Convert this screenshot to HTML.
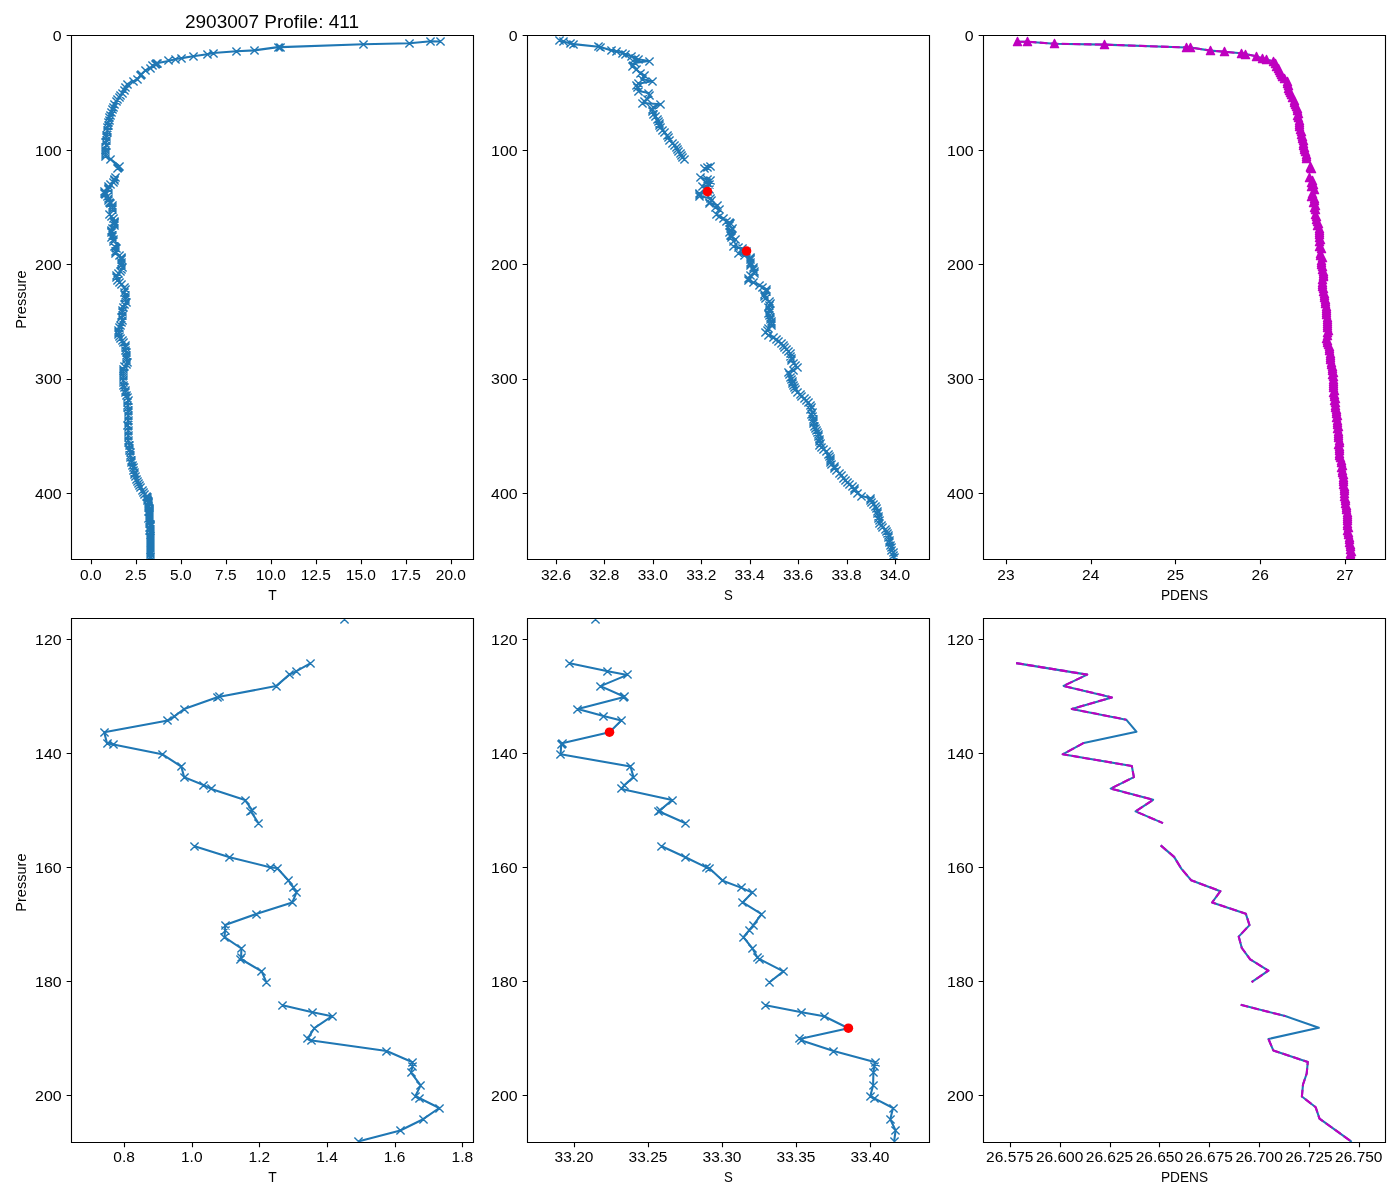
<!DOCTYPE html>
<html lang="en"><head><meta charset="utf-8"><title>2903007 Profile: 411</title>
<style>html,body{margin:0;padding:0;background:#fff}body{width:1400px;height:1200px;overflow:hidden;font-family:"Liberation Sans",sans-serif}svg{display:block}text{white-space:pre}</style></head>
<body>
<svg width="1400" height="1200" viewBox="0 0 1400 1200" font-family="'Liberation Sans', sans-serif" fill="#000">
<rect width="1400" height="1200" fill="#fff"/>
<defs>
<clipPath id="c0"><rect x="71.5" y="35.5" width="402" height="524"/></clipPath>
<clipPath id="c1"><rect x="527.5" y="35.5" width="402" height="524"/></clipPath>
<clipPath id="c2"><rect x="983.5" y="35.5" width="402" height="524"/></clipPath>
<clipPath id="c3"><rect x="71.5" y="618.5" width="402" height="524"/></clipPath>
<clipPath id="c4"><rect x="527.5" y="618.5" width="402" height="524"/></clipPath>
<clipPath id="c5"><rect x="983.5" y="618.5" width="402" height="524"/></clipPath>
</defs>
<g clip-path="url(#c0)"><path d="M440 41.5 L430.9 41.3 L409.5 43.2 L363.4 44.2 L280.9 47.1 L278 47.1 L254.3 50.4 L236.4 51.3 L213.1 53 L207.3 54.3 L193.1 56.2 L181.6 58.1 L175.8 59 L168.4 60.9 L157.9 63.1 L156.6 63.8 L155.3 64.4 L152.7 65.5 L150.6 68.1 L145.6 70.2 L141.6 74.1 L140.3 75.4 L137.7 79.2 L133.9 81.1 L127 84.1 L125.7 87.1 L124 90.6 L122.3 93.5 L120.71 95.43 L119.12 97.37 L117.9 99.3 L116.41 101.85 L114.7 104.4 L113.1 107 L112.1 109.6 L111.28 112.3 L110.4 115 L109.61 117.5 L109 120 L108.32 122.5 L108.26 125 L107.55 127.5 L107.5 130 L107.13 132.5 L106.55 135 L106.24 137.5 L106.2 140 L105.97 142.5 L106.08 145 L105.41 147.5 L105.5 150 L105.31 152 L105.59 154 L105.5 156 L110.5 159 L119.4 166 L118.4 167 L117.4 168M115.68 177.78 L114.92 179.38 L114.56 180.11 L113.86 182.36 L110.85 184.5 L110.73 184.6 L108.97 186.95 L108.47 188.38 L108.1 189.28 L104.71 191.61 L104.86 193.84 L105.2 194.1 L107.8 196.03 L108.82 198.5 L108.97 200.63 L109.99 202.22 L110.41 203 L112.21 205.25 L112.59 207.24 L112.51 207.44 L112.93 209.89M109.53 214.53 L111.39 216.72 L113.59 218.77 L113.92 218.89 L114.53 221.46 L114.81 222.89 L114.94 223.83 L114.73 225.8 L112.8 228.15 L111.15 230.36 L111.15 231.36 L111.12 232.77 L112.02 235.06 L112 236.86 L111.98 237.17 L113.1 239.66 L113.35 241.84M114.2 246.46 L115.8 247.87 L116.84 248.65 L115.9 251.06 L115.53 253.21 L115.77 253.53 L119.75 255.64 L121.12 257.89 L121.12 258.82 L121.04 259.98 L121.56 262.55 L121.27 264.7 L121.5 265.14 L122.55 267.09 L121.69 269.34 L120.47 271.61 L118.23 273.8 L116.07 275.8 L116.85 277.9 L117 280 L119.55 282.33 L121.93 284.67 L124.5 287 L125 289.67 L124.52 292.33 L125 295 L125.58 297.33 L125.52 299.67 L126 302 L124.58 304.67 L123.4 307.33 L122.5 310 L122.24 312.5 L122.47 315 L121.9 317.5 L122 320 L121.18 322.5 L120.35 325 L119.29 327.5 L118.5 330 L118.87 332 L118.86 334 L119.5 336 L120.57 338.25 L122.04 340.5 L123.75 342.75 L125 345 L125.32 347.5 L125.62 350 L126.18 352.5 L126.5 355 L126.63 357.33 L126.69 359.67 L127 362 L126.04 364.33 L124.81 366.67 L123.5 369 L123.22 371.2 L123.35 373.4 L123.22 375.6 L123.36 377.8 L123 380 L123.66 382.5 L123.85 385 L124.84 387.5 L125 390 L125.48 392.5 L126.44 395 L127.43 397.5 L128 400 L127.76 402.5 L127.99 405 L127.68 407.5 L128 410 L128.12 412.5 L128.19 415 L128.05 417.5 L128 420 L128.31 422.5 L127.97 425 L128.29 427.5 L128.2 430 L128.22 432.5 L128.16 435 L128.02 437.5 L128 440 L128.74 442.67 L129.31 445.33 L129.5 448 L129.78 450.4 L130.21 452.8 L130.09 455.2 L130.84 457.6 L131 460 L131.73 462.5 L132.6 465 L133.1 467.5 L133.5 470 L134.1 472.25 L134.92 474.5 L135.87 476.75 L136.5 479 L137.17 481 L138.47 483 L139.5 485 L140.82 487.5 L142.6 490 L143.47 492 L144.56 494 L146 496 L147.14 497.9 L147.9 499.8 L147.84 500.84 L148.12 501.88 L148.42 502.92 L148.96 503.96 L148.9 505 L148.65 506.07 L148.95 507.14 L149.06 508.21 L149.34 509.29 L149.34 510.36 L149.41 511.43 L149.2 512.5 L149.02 513.57 L149.08 514.64 L149.02 515.71 L149.35 516.79 L149.38 517.86 L148.78 518.93 L149 520 L149.05 521.12 L149.36 522.25 L149.64 523.38 L150.1 524.5 L150.09 525.62 L150.16 526.75 L149.93 527.88 L150.1 529 L149.83 530.2 L150.2 531.4 L150.25 532.6 L150.47 533.8 L150.5 535 L150.82 536.15 L150.63 537.31 L150.51 538.46 L150.58 539.62 L150.62 540.77 L150.19 541.92 L150.78 543.08 L150.7 544.23 L150.76 545.38 L150.71 546.54 L150.42 547.69 L150.43 548.85 L150.5 550 L150.22 551.2 L150.59 552.4 L150.19 553.6 L150.2 554.8 L150.3 556 L150.26 557.2 L150.39 558.4" fill="none" stroke="#1f77b4" stroke-width="2.08" stroke-linejoin="round"/><path d="M436.4 37.4l8.2 8.2m-8.2 0l8.2 -8.2M426.4 37.4l8.2 8.2m-8.2 0l8.2 -8.2M405.4 39.4l8.2 8.2m-8.2 0l8.2 -8.2M359.4 40.4l8.2 8.2m-8.2 0l8.2 -8.2M276.4 43.4l8.2 8.2m-8.2 0l8.2 -8.2M274.4 43.4l8.2 8.2m-8.2 0l8.2 -8.2M250.4 46.4l8.2 8.2m-8.2 0l8.2 -8.2M232.4 47.4l8.2 8.2m-8.2 0l8.2 -8.2M209.4 49.4l8.2 8.2m-8.2 0l8.2 -8.2M203.4 50.4l8.2 8.2m-8.2 0l8.2 -8.2M189.4 52.4l8.2 8.2m-8.2 0l8.2 -8.2M177.4 54.4l8.2 8.2m-8.2 0l8.2 -8.2M171.4 55.4l8.2 8.2m-8.2 0l8.2 -8.2M164.4 56.4l8.2 8.2m-8.2 0l8.2 -8.2M153.4 59.4l8.2 8.2m-8.2 0l8.2 -8.2M152.4 59.4l8.2 8.2m-8.2 0l8.2 -8.2M151.4 60.4l8.2 8.2m-8.2 0l8.2 -8.2M148.4 61.4l8.2 8.2m-8.2 0l8.2 -8.2M146.4 64.4l8.2 8.2m-8.2 0l8.2 -8.2M141.4 66.4l8.2 8.2m-8.2 0l8.2 -8.2M137.4 70.4l8.2 8.2m-8.2 0l8.2 -8.2M136.4 71.4l8.2 8.2m-8.2 0l8.2 -8.2M133.4 75.4l8.2 8.2m-8.2 0l8.2 -8.2M129.4 77.4l8.2 8.2m-8.2 0l8.2 -8.2M123.4 80.4l8.2 8.2m-8.2 0l8.2 -8.2M121.4 83.4l8.2 8.2m-8.2 0l8.2 -8.2M120.4 86.4l8.2 8.2m-8.2 0l8.2 -8.2M118.4 89.4l8.2 8.2m-8.2 0l8.2 -8.2M116.4 91.4l8.2 8.2m-8.2 0l8.2 -8.2M115.4 93.4l8.2 8.2m-8.2 0l8.2 -8.2M113.4 95.4l8.2 8.2m-8.2 0l8.2 -8.2M112.4 97.4l8.2 8.2m-8.2 0l8.2 -8.2M110.4 100.4l8.2 8.2m-8.2 0l8.2 -8.2M109.4 103.4l8.2 8.2m-8.2 0l8.2 -8.2M108.4 105.4l8.2 8.2m-8.2 0l8.2 -8.2M107.4 108.4l8.2 8.2m-8.2 0l8.2 -8.2M106.4 111.4l8.2 8.2m-8.2 0l8.2 -8.2M105.4 113.4l8.2 8.2m-8.2 0l8.2 -8.2M105.4 116.4l8.2 8.2m-8.2 0l8.2 -8.2M104.4 118.4l8.2 8.2m-8.2 0l8.2 -8.2M104.4 121.4l8.2 8.2m-8.2 0l8.2 -8.2M103.4 123.4l8.2 8.2m-8.2 0l8.2 -8.2M103.4 126.4l8.2 8.2m-8.2 0l8.2 -8.2M103.4 128.4l8.2 8.2m-8.2 0l8.2 -8.2M102.4 131.4l8.2 8.2m-8.2 0l8.2 -8.2M102.4 133.4l8.2 8.2m-8.2 0l8.2 -8.2M102.4 136.4l8.2 8.2m-8.2 0l8.2 -8.2M101.4 138.4l8.2 8.2m-8.2 0l8.2 -8.2M102.4 141.4l8.2 8.2m-8.2 0l8.2 -8.2M101.4 143.4l8.2 8.2m-8.2 0l8.2 -8.2M101.4 146.4l8.2 8.2m-8.2 0l8.2 -8.2M101.4 148.4l8.2 8.2m-8.2 0l8.2 -8.2M101.4 150.4l8.2 8.2m-8.2 0l8.2 -8.2M101.4 152.4l8.2 8.2m-8.2 0l8.2 -8.2M106.4 155.4l8.2 8.2m-8.2 0l8.2 -8.2M115.4 162.4l8.2 8.2m-8.2 0l8.2 -8.2M114.4 163.4l8.2 8.2m-8.2 0l8.2 -8.2M113.4 164.4l8.2 8.2m-8.2 0l8.2 -8.2M111.4 173.4l8.2 8.2m-8.2 0l8.2 -8.2M110.4 175.4l8.2 8.2m-8.2 0l8.2 -8.2M110.4 176.4l8.2 8.2m-8.2 0l8.2 -8.2M109.4 178.4l8.2 8.2m-8.2 0l8.2 -8.2M106.4 180.4l8.2 8.2m-8.2 0l8.2 -8.2M106.4 180.4l8.2 8.2m-8.2 0l8.2 -8.2M104.4 182.4l8.2 8.2m-8.2 0l8.2 -8.2M104.4 184.4l8.2 8.2m-8.2 0l8.2 -8.2M104.4 185.4l8.2 8.2m-8.2 0l8.2 -8.2M100.4 187.4l8.2 8.2m-8.2 0l8.2 -8.2M100.4 189.4l8.2 8.2m-8.2 0l8.2 -8.2M101.4 190.4l8.2 8.2m-8.2 0l8.2 -8.2M103.4 192.4l8.2 8.2m-8.2 0l8.2 -8.2M104.4 194.4l8.2 8.2m-8.2 0l8.2 -8.2M104.4 196.4l8.2 8.2m-8.2 0l8.2 -8.2M105.4 198.4l8.2 8.2m-8.2 0l8.2 -8.2M106.4 199.4l8.2 8.2m-8.2 0l8.2 -8.2M108.4 201.4l8.2 8.2m-8.2 0l8.2 -8.2M108.4 203.4l8.2 8.2m-8.2 0l8.2 -8.2M108.4 203.4l8.2 8.2m-8.2 0l8.2 -8.2M108.4 205.4l8.2 8.2m-8.2 0l8.2 -8.2M105.4 210.4l8.2 8.2m-8.2 0l8.2 -8.2M107.4 212.4l8.2 8.2m-8.2 0l8.2 -8.2M109.4 214.4l8.2 8.2m-8.2 0l8.2 -8.2M109.4 214.4l8.2 8.2m-8.2 0l8.2 -8.2M110.4 217.4l8.2 8.2m-8.2 0l8.2 -8.2M110.4 218.4l8.2 8.2m-8.2 0l8.2 -8.2M110.4 219.4l8.2 8.2m-8.2 0l8.2 -8.2M110.4 221.4l8.2 8.2m-8.2 0l8.2 -8.2M108.4 224.4l8.2 8.2m-8.2 0l8.2 -8.2M107.4 226.4l8.2 8.2m-8.2 0l8.2 -8.2M107.4 227.4l8.2 8.2m-8.2 0l8.2 -8.2M107.4 228.4l8.2 8.2m-8.2 0l8.2 -8.2M108.4 231.4l8.2 8.2m-8.2 0l8.2 -8.2M108.4 232.4l8.2 8.2m-8.2 0l8.2 -8.2M107.4 233.4l8.2 8.2m-8.2 0l8.2 -8.2M109.4 235.4l8.2 8.2m-8.2 0l8.2 -8.2M109.4 237.4l8.2 8.2m-8.2 0l8.2 -8.2M110.4 242.4l8.2 8.2m-8.2 0l8.2 -8.2M111.4 243.4l8.2 8.2m-8.2 0l8.2 -8.2M112.4 244.4l8.2 8.2m-8.2 0l8.2 -8.2M111.4 247.4l8.2 8.2m-8.2 0l8.2 -8.2M111.4 249.4l8.2 8.2m-8.2 0l8.2 -8.2M111.4 249.4l8.2 8.2m-8.2 0l8.2 -8.2M115.4 251.4l8.2 8.2m-8.2 0l8.2 -8.2M117.4 253.4l8.2 8.2m-8.2 0l8.2 -8.2M117.4 254.4l8.2 8.2m-8.2 0l8.2 -8.2M117.4 255.4l8.2 8.2m-8.2 0l8.2 -8.2M117.4 258.4l8.2 8.2m-8.2 0l8.2 -8.2M117.4 260.4l8.2 8.2m-8.2 0l8.2 -8.2M117.4 261.4l8.2 8.2m-8.2 0l8.2 -8.2M118.4 263.4l8.2 8.2m-8.2 0l8.2 -8.2M117.4 265.4l8.2 8.2m-8.2 0l8.2 -8.2M116.4 267.4l8.2 8.2m-8.2 0l8.2 -8.2M114.4 269.4l8.2 8.2m-8.2 0l8.2 -8.2M112.4 271.4l8.2 8.2m-8.2 0l8.2 -8.2M112.4 273.4l8.2 8.2m-8.2 0l8.2 -8.2M113.4 276.4l8.2 8.2m-8.2 0l8.2 -8.2M115.4 278.4l8.2 8.2m-8.2 0l8.2 -8.2M117.4 280.4l8.2 8.2m-8.2 0l8.2 -8.2M120.4 283.4l8.2 8.2m-8.2 0l8.2 -8.2M121.4 285.4l8.2 8.2m-8.2 0l8.2 -8.2M120.4 288.4l8.2 8.2m-8.2 0l8.2 -8.2M121.4 291.4l8.2 8.2m-8.2 0l8.2 -8.2M121.4 293.4l8.2 8.2m-8.2 0l8.2 -8.2M121.4 295.4l8.2 8.2m-8.2 0l8.2 -8.2M122.4 298.4l8.2 8.2m-8.2 0l8.2 -8.2M120.4 300.4l8.2 8.2m-8.2 0l8.2 -8.2M119.4 303.4l8.2 8.2m-8.2 0l8.2 -8.2M118.4 306.4l8.2 8.2m-8.2 0l8.2 -8.2M118.4 308.4l8.2 8.2m-8.2 0l8.2 -8.2M118.4 311.4l8.2 8.2m-8.2 0l8.2 -8.2M117.4 313.4l8.2 8.2m-8.2 0l8.2 -8.2M118.4 316.4l8.2 8.2m-8.2 0l8.2 -8.2M117.4 318.4l8.2 8.2m-8.2 0l8.2 -8.2M116.4 321.4l8.2 8.2m-8.2 0l8.2 -8.2M115.4 323.4l8.2 8.2m-8.2 0l8.2 -8.2M114.4 326.4l8.2 8.2m-8.2 0l8.2 -8.2M114.4 328.4l8.2 8.2m-8.2 0l8.2 -8.2M114.4 330.4l8.2 8.2m-8.2 0l8.2 -8.2M115.4 332.4l8.2 8.2m-8.2 0l8.2 -8.2M116.4 334.4l8.2 8.2m-8.2 0l8.2 -8.2M118.4 336.4l8.2 8.2m-8.2 0l8.2 -8.2M119.4 338.4l8.2 8.2m-8.2 0l8.2 -8.2M121.4 341.4l8.2 8.2m-8.2 0l8.2 -8.2M121.4 343.4l8.2 8.2m-8.2 0l8.2 -8.2M121.4 346.4l8.2 8.2m-8.2 0l8.2 -8.2M122.4 348.4l8.2 8.2m-8.2 0l8.2 -8.2M122.4 351.4l8.2 8.2m-8.2 0l8.2 -8.2M122.4 353.4l8.2 8.2m-8.2 0l8.2 -8.2M122.4 355.4l8.2 8.2m-8.2 0l8.2 -8.2M123.4 358.4l8.2 8.2m-8.2 0l8.2 -8.2M122.4 360.4l8.2 8.2m-8.2 0l8.2 -8.2M120.4 362.4l8.2 8.2m-8.2 0l8.2 -8.2M119.4 365.4l8.2 8.2m-8.2 0l8.2 -8.2M119.4 367.4l8.2 8.2m-8.2 0l8.2 -8.2M119.4 369.4l8.2 8.2m-8.2 0l8.2 -8.2M119.4 371.4l8.2 8.2m-8.2 0l8.2 -8.2M119.4 373.4l8.2 8.2m-8.2 0l8.2 -8.2M119.4 376.4l8.2 8.2m-8.2 0l8.2 -8.2M119.4 378.4l8.2 8.2m-8.2 0l8.2 -8.2M119.4 381.4l8.2 8.2m-8.2 0l8.2 -8.2M120.4 383.4l8.2 8.2m-8.2 0l8.2 -8.2M121.4 386.4l8.2 8.2m-8.2 0l8.2 -8.2M121.4 388.4l8.2 8.2m-8.2 0l8.2 -8.2M122.4 391.4l8.2 8.2m-8.2 0l8.2 -8.2M123.4 393.4l8.2 8.2m-8.2 0l8.2 -8.2M124.4 396.4l8.2 8.2m-8.2 0l8.2 -8.2M123.4 398.4l8.2 8.2m-8.2 0l8.2 -8.2M123.4 401.4l8.2 8.2m-8.2 0l8.2 -8.2M123.4 403.4l8.2 8.2m-8.2 0l8.2 -8.2M124.4 406.4l8.2 8.2m-8.2 0l8.2 -8.2M124.4 408.4l8.2 8.2m-8.2 0l8.2 -8.2M124.4 411.4l8.2 8.2m-8.2 0l8.2 -8.2M124.4 413.4l8.2 8.2m-8.2 0l8.2 -8.2M124.4 416.4l8.2 8.2m-8.2 0l8.2 -8.2M124.4 418.4l8.2 8.2m-8.2 0l8.2 -8.2M123.4 421.4l8.2 8.2m-8.2 0l8.2 -8.2M124.4 423.4l8.2 8.2m-8.2 0l8.2 -8.2M124.4 426.4l8.2 8.2m-8.2 0l8.2 -8.2M124.4 428.4l8.2 8.2m-8.2 0l8.2 -8.2M124.4 431.4l8.2 8.2m-8.2 0l8.2 -8.2M124.4 433.4l8.2 8.2m-8.2 0l8.2 -8.2M124.4 436.4l8.2 8.2m-8.2 0l8.2 -8.2M124.4 438.4l8.2 8.2m-8.2 0l8.2 -8.2M125.4 441.4l8.2 8.2m-8.2 0l8.2 -8.2M125.4 444.4l8.2 8.2m-8.2 0l8.2 -8.2M125.4 446.4l8.2 8.2m-8.2 0l8.2 -8.2M126.4 448.4l8.2 8.2m-8.2 0l8.2 -8.2M126.4 451.4l8.2 8.2m-8.2 0l8.2 -8.2M126.4 453.4l8.2 8.2m-8.2 0l8.2 -8.2M127.4 456.4l8.2 8.2m-8.2 0l8.2 -8.2M127.4 458.4l8.2 8.2m-8.2 0l8.2 -8.2M128.4 461.4l8.2 8.2m-8.2 0l8.2 -8.2M129.4 463.4l8.2 8.2m-8.2 0l8.2 -8.2M129.4 466.4l8.2 8.2m-8.2 0l8.2 -8.2M130.4 468.4l8.2 8.2m-8.2 0l8.2 -8.2M130.4 470.4l8.2 8.2m-8.2 0l8.2 -8.2M131.4 472.4l8.2 8.2m-8.2 0l8.2 -8.2M132.4 475.4l8.2 8.2m-8.2 0l8.2 -8.2M133.4 477.4l8.2 8.2m-8.2 0l8.2 -8.2M134.4 479.4l8.2 8.2m-8.2 0l8.2 -8.2M135.4 481.4l8.2 8.2m-8.2 0l8.2 -8.2M136.4 483.4l8.2 8.2m-8.2 0l8.2 -8.2M138.4 486.4l8.2 8.2m-8.2 0l8.2 -8.2M139.4 488.4l8.2 8.2m-8.2 0l8.2 -8.2M140.4 490.4l8.2 8.2m-8.2 0l8.2 -8.2M142.4 492.4l8.2 8.2m-8.2 0l8.2 -8.2M143.4 493.4l8.2 8.2m-8.2 0l8.2 -8.2M143.4 495.4l8.2 8.2m-8.2 0l8.2 -8.2M143.4 496.4l8.2 8.2m-8.2 0l8.2 -8.2M144.4 497.4l8.2 8.2m-8.2 0l8.2 -8.2M144.4 498.4l8.2 8.2m-8.2 0l8.2 -8.2M144.4 499.4l8.2 8.2m-8.2 0l8.2 -8.2M144.4 501.4l8.2 8.2m-8.2 0l8.2 -8.2M144.4 502.4l8.2 8.2m-8.2 0l8.2 -8.2M144.4 503.4l8.2 8.2m-8.2 0l8.2 -8.2M145.4 504.4l8.2 8.2m-8.2 0l8.2 -8.2M145.4 505.4l8.2 8.2m-8.2 0l8.2 -8.2M145.4 506.4l8.2 8.2m-8.2 0l8.2 -8.2M145.4 507.4l8.2 8.2m-8.2 0l8.2 -8.2M145.4 508.4l8.2 8.2m-8.2 0l8.2 -8.2M145.4 509.4l8.2 8.2m-8.2 0l8.2 -8.2M145.4 510.4l8.2 8.2m-8.2 0l8.2 -8.2M145.4 511.4l8.2 8.2m-8.2 0l8.2 -8.2M145.4 512.4l8.2 8.2m-8.2 0l8.2 -8.2M145.4 513.4l8.2 8.2m-8.2 0l8.2 -8.2M144.4 514.4l8.2 8.2m-8.2 0l8.2 -8.2M145.4 516.4l8.2 8.2m-8.2 0l8.2 -8.2M145.4 517.4l8.2 8.2m-8.2 0l8.2 -8.2M145.4 518.4l8.2 8.2m-8.2 0l8.2 -8.2M145.4 519.4l8.2 8.2m-8.2 0l8.2 -8.2M146.4 520.4l8.2 8.2m-8.2 0l8.2 -8.2M146.4 521.4l8.2 8.2m-8.2 0l8.2 -8.2M146.4 522.4l8.2 8.2m-8.2 0l8.2 -8.2M145.4 523.4l8.2 8.2m-8.2 0l8.2 -8.2M146.4 525.4l8.2 8.2m-8.2 0l8.2 -8.2M145.4 526.4l8.2 8.2m-8.2 0l8.2 -8.2M146.4 527.4l8.2 8.2m-8.2 0l8.2 -8.2M146.4 528.4l8.2 8.2m-8.2 0l8.2 -8.2M146.4 529.4l8.2 8.2m-8.2 0l8.2 -8.2M146.4 531.4l8.2 8.2m-8.2 0l8.2 -8.2M146.4 532.4l8.2 8.2m-8.2 0l8.2 -8.2M146.4 533.4l8.2 8.2m-8.2 0l8.2 -8.2M146.4 534.4l8.2 8.2m-8.2 0l8.2 -8.2M146.4 535.4l8.2 8.2m-8.2 0l8.2 -8.2M146.4 536.4l8.2 8.2m-8.2 0l8.2 -8.2M146.4 537.4l8.2 8.2m-8.2 0l8.2 -8.2M146.4 539.4l8.2 8.2m-8.2 0l8.2 -8.2M146.4 540.4l8.2 8.2m-8.2 0l8.2 -8.2M146.4 541.4l8.2 8.2m-8.2 0l8.2 -8.2M146.4 542.4l8.2 8.2m-8.2 0l8.2 -8.2M146.4 543.4l8.2 8.2m-8.2 0l8.2 -8.2M146.4 544.4l8.2 8.2m-8.2 0l8.2 -8.2M146.4 546.4l8.2 8.2m-8.2 0l8.2 -8.2M146.4 547.4l8.2 8.2m-8.2 0l8.2 -8.2M146.4 548.4l8.2 8.2m-8.2 0l8.2 -8.2M146.4 549.4l8.2 8.2m-8.2 0l8.2 -8.2M146.4 550.4l8.2 8.2m-8.2 0l8.2 -8.2M146.4 552.4l8.2 8.2m-8.2 0l8.2 -8.2M146.4 553.4l8.2 8.2m-8.2 0l8.2 -8.2M146.4 554.4l8.2 8.2m-8.2 0l8.2 -8.2" fill="none" stroke="#1f77b4" stroke-width="1.4"/></g>
<g clip-path="url(#c1)"><path d="M559.9 40.9 L563.1 41.6 L570.9 43.5 L573.7 44.1 L598.5 46.7 L600.4 47 L611.6 50.4 L616 51.4 L622.3 53 L625 54 L631.5 56.4 L635.1 58.3 L638 59.3 L649 61 L634.7 62.9 L633.21 65.2 L632.5 66.3 L636.7 69.7 L640 73 L644 75.7 L642 79 L652 81.3 L638 83.7 L636.95 85.7 L637.3 87.7 L638.7 91 L648.7 93 L649.3 95.7 L647.3 99 L644.2 101 L642.7 103 L660.7 104.3 L653.3 107 L652.73 109.35 L652.7 111.7 L653.05 114 L655.3 116.3 L657.4 119 L658 121.7 L659.19 123.7 L659.23 125.7 L660.9 127.7 L662.54 130.27 L664.86 132.83 L667.3 135.4 L668.73 137.97 L669.95 140.53 L672.4 143.1 L674.83 145.27 L676.85 147.43 L677.6 149.6 L678.8 151.53 L680.1 153.47 L681.4 155.4 L682.17 157.45 L684.6 159.5M710.5 166.6 L707.5 167.4 L704.5 168.3M700.96 177.78 L707.21 179.38 L710.4 180.11 L706.01 182.36 L709.92 184.5 L709.73 184.6 L702.3 186.95 L706.5 188.38 L709.42 189.28 L707.49 191.61 L699.72 193.84 L699.58 194.1 L699.49 196.03 L710.92 198.5 L711.41 200.63 L709.94 202.22 L709.45 203 L717.73 205.25 L715.8 207.24 L715.44 207.44 L719.93 209.89M716.02 214.53 L719.92 216.72 L723.32 218.77 L723.78 218.89 L726.02 221.46 L729.09 222.89 L730.84 223.83 L729.27 225.8 L732.37 228.15 L731.01 230.36 L730.35 231.36 L729.39 232.77 L730.88 235.06 L731.68 236.86 L731.97 237.17 L735.93 239.66 L733.66 241.84M733.02 246.46 L738.91 247.87 L742.59 248.65 L746.56 251.06 L738.58 253.21 L738.91 253.53 L744.14 255.64 L750.98 257.89 L750.79 258.82 L750.65 259.98 L750.61 262.55 L750.15 264.7 L750.82 265.14 L753.86 267.09 L753.42 269.34 L754.29 271.61 L754.04 273.8 L750.6 275.8 L748.5 278 L748 280.2 L753.54 282.8 L759.7 285.4 L762.73 287.45 L766.7 289.5 L766.56 291.83 L764.42 294.17 L764.3 296.5 L765.31 298.83 L769.14 301.17 L770.2 303.5 L769.96 305.55 L768.89 307.6 L769.39 309.65 L769 311.7 L768.35 313.73 L769.66 315.75 L770.86 317.77 L770.2 319.8 L771.29 321.77 L771.33 323.73 L771.3 325.7 L768.89 328.03 L767.17 330.37 L765.5 332.7 L768.33 335.03 L773.04 337.37 L776 339.7 L778.4 341.63 L781.22 343.57 L783 345.5 L784.59 347.43 L786.31 349.37 L788.8 351.3 L790.02 353.65 L790.97 356 L791.31 358.35 L791.2 360.7 L793.75 363.03 L795.7 365.37 L797 367.7 L793.38 370.05 L788.8 372.4 L789.13 374.72 L790.59 377.05 L791.14 379.38 L792.3 381.7 L792.23 383.75 L793.11 385.8 L794.48 387.85 L795.8 389.9 L797.29 392.23 L800.12 394.57 L801.7 396.9 L804.88 398.87 L806.13 400.83 L808.5 402.8 L810.14 405.13 L811.01 407.47 L810.8 409.8 L812.31 412.15 L811.73 414.5 L812.04 416.85 L813.2 419.2 L813.23 421.52 L813.74 423.85 L814.33 426.18 L815.5 428.5 L816.45 430.6 L817.7 432.7 L818.28 434.8 L818.26 436.9 L819 439 L819.88 441.05 L820.75 443.1 L819.89 445.15 L821.3 447.2 L823.95 449.53 L826.79 451.87 L828.3 454.2 L829.46 456.23 L830 458.25 L830.06 460.27 L830.7 462.3 L831.51 464.35 L834.18 466.4 L834.72 468.45 L836.5 470.5 L839.37 473.1 L841.98 475.7 L843.3 478.3 L845.26 480.47 L847.44 482.63 L849.8 484.8 L852.57 486.85 L854 488.9 L854.77 490.95 L857.3 493 L861.8 496 L870 498.3 L870.52 500.3 L871.84 502.3 L873.8 504.3 L875.84 506.53 L876.63 508.77 L877.5 511 L877.44 513.5 L878.63 516 L878.6 518.5 L879.38 520.75 L879 523 L881.19 525 L882.82 527 L885 529 L886.33 531 L887.09 533 L888.8 535 L888.45 537.5 L889.83 540 L889.5 542.5 L890.45 545 L891.07 547.5 L891.8 550 L893.32 552.5 L893.72 555 L894.8 557.5" fill="none" stroke="#1f77b4" stroke-width="2.08" stroke-linejoin="round"/><path d="M555.4 36.4l8.2 8.2m-8.2 0l8.2 -8.2M559.4 37.4l8.2 8.2m-8.2 0l8.2 -8.2M566.4 39.4l8.2 8.2m-8.2 0l8.2 -8.2M569.4 40.4l8.2 8.2m-8.2 0l8.2 -8.2M594.4 42.4l8.2 8.2m-8.2 0l8.2 -8.2M596.4 43.4l8.2 8.2m-8.2 0l8.2 -8.2M607.4 46.4l8.2 8.2m-8.2 0l8.2 -8.2M612.4 47.4l8.2 8.2m-8.2 0l8.2 -8.2M618.4 49.4l8.2 8.2m-8.2 0l8.2 -8.2M621.4 50.4l8.2 8.2m-8.2 0l8.2 -8.2M627.4 52.4l8.2 8.2m-8.2 0l8.2 -8.2M631.4 54.4l8.2 8.2m-8.2 0l8.2 -8.2M634.4 55.4l8.2 8.2m-8.2 0l8.2 -8.2M645.4 57.4l8.2 8.2m-8.2 0l8.2 -8.2M630.4 58.4l8.2 8.2m-8.2 0l8.2 -8.2M629.4 61.4l8.2 8.2m-8.2 0l8.2 -8.2M628.4 62.4l8.2 8.2m-8.2 0l8.2 -8.2M632.4 65.4l8.2 8.2m-8.2 0l8.2 -8.2M636.4 69.4l8.2 8.2m-8.2 0l8.2 -8.2M640.4 71.4l8.2 8.2m-8.2 0l8.2 -8.2M638.4 75.4l8.2 8.2m-8.2 0l8.2 -8.2M648.4 77.4l8.2 8.2m-8.2 0l8.2 -8.2M634.4 79.4l8.2 8.2m-8.2 0l8.2 -8.2M632.4 81.4l8.2 8.2m-8.2 0l8.2 -8.2M633.4 83.4l8.2 8.2m-8.2 0l8.2 -8.2M634.4 87.4l8.2 8.2m-8.2 0l8.2 -8.2M644.4 89.4l8.2 8.2m-8.2 0l8.2 -8.2M645.4 91.4l8.2 8.2m-8.2 0l8.2 -8.2M643.4 95.4l8.2 8.2m-8.2 0l8.2 -8.2M640.4 97.4l8.2 8.2m-8.2 0l8.2 -8.2M638.4 99.4l8.2 8.2m-8.2 0l8.2 -8.2M656.4 100.4l8.2 8.2m-8.2 0l8.2 -8.2M649.4 103.4l8.2 8.2m-8.2 0l8.2 -8.2M648.4 105.4l8.2 8.2m-8.2 0l8.2 -8.2M648.4 107.4l8.2 8.2m-8.2 0l8.2 -8.2M649.4 110.4l8.2 8.2m-8.2 0l8.2 -8.2M651.4 112.4l8.2 8.2m-8.2 0l8.2 -8.2M653.4 115.4l8.2 8.2m-8.2 0l8.2 -8.2M654.4 117.4l8.2 8.2m-8.2 0l8.2 -8.2M655.4 119.4l8.2 8.2m-8.2 0l8.2 -8.2M655.4 121.4l8.2 8.2m-8.2 0l8.2 -8.2M656.4 123.4l8.2 8.2m-8.2 0l8.2 -8.2M658.4 126.4l8.2 8.2m-8.2 0l8.2 -8.2M660.4 128.4l8.2 8.2m-8.2 0l8.2 -8.2M663.4 131.4l8.2 8.2m-8.2 0l8.2 -8.2M664.4 133.4l8.2 8.2m-8.2 0l8.2 -8.2M665.4 136.4l8.2 8.2m-8.2 0l8.2 -8.2M668.4 139.4l8.2 8.2m-8.2 0l8.2 -8.2M670.4 141.4l8.2 8.2m-8.2 0l8.2 -8.2M672.4 143.4l8.2 8.2m-8.2 0l8.2 -8.2M673.4 145.4l8.2 8.2m-8.2 0l8.2 -8.2M674.4 147.4l8.2 8.2m-8.2 0l8.2 -8.2M676.4 149.4l8.2 8.2m-8.2 0l8.2 -8.2M677.4 151.4l8.2 8.2m-8.2 0l8.2 -8.2M678.4 153.4l8.2 8.2m-8.2 0l8.2 -8.2M680.4 155.4l8.2 8.2m-8.2 0l8.2 -8.2M706.4 162.4l8.2 8.2m-8.2 0l8.2 -8.2M703.4 163.4l8.2 8.2m-8.2 0l8.2 -8.2M700.4 164.4l8.2 8.2m-8.2 0l8.2 -8.2M696.4 173.4l8.2 8.2m-8.2 0l8.2 -8.2M703.4 175.4l8.2 8.2m-8.2 0l8.2 -8.2M706.4 176.4l8.2 8.2m-8.2 0l8.2 -8.2M702.4 178.4l8.2 8.2m-8.2 0l8.2 -8.2M705.4 180.4l8.2 8.2m-8.2 0l8.2 -8.2M705.4 180.4l8.2 8.2m-8.2 0l8.2 -8.2M698.4 182.4l8.2 8.2m-8.2 0l8.2 -8.2M702.4 184.4l8.2 8.2m-8.2 0l8.2 -8.2M705.4 185.4l8.2 8.2m-8.2 0l8.2 -8.2M703.4 187.4l8.2 8.2m-8.2 0l8.2 -8.2M695.4 189.4l8.2 8.2m-8.2 0l8.2 -8.2M695.4 190.4l8.2 8.2m-8.2 0l8.2 -8.2M695.4 192.4l8.2 8.2m-8.2 0l8.2 -8.2M706.4 194.4l8.2 8.2m-8.2 0l8.2 -8.2M707.4 196.4l8.2 8.2m-8.2 0l8.2 -8.2M705.4 198.4l8.2 8.2m-8.2 0l8.2 -8.2M705.4 199.4l8.2 8.2m-8.2 0l8.2 -8.2M713.4 201.4l8.2 8.2m-8.2 0l8.2 -8.2M711.4 203.4l8.2 8.2m-8.2 0l8.2 -8.2M711.4 203.4l8.2 8.2m-8.2 0l8.2 -8.2M715.4 205.4l8.2 8.2m-8.2 0l8.2 -8.2M712.4 210.4l8.2 8.2m-8.2 0l8.2 -8.2M715.4 212.4l8.2 8.2m-8.2 0l8.2 -8.2M719.4 214.4l8.2 8.2m-8.2 0l8.2 -8.2M719.4 214.4l8.2 8.2m-8.2 0l8.2 -8.2M722.4 217.4l8.2 8.2m-8.2 0l8.2 -8.2M725.4 218.4l8.2 8.2m-8.2 0l8.2 -8.2M726.4 219.4l8.2 8.2m-8.2 0l8.2 -8.2M725.4 221.4l8.2 8.2m-8.2 0l8.2 -8.2M728.4 224.4l8.2 8.2m-8.2 0l8.2 -8.2M727.4 226.4l8.2 8.2m-8.2 0l8.2 -8.2M726.4 227.4l8.2 8.2m-8.2 0l8.2 -8.2M725.4 228.4l8.2 8.2m-8.2 0l8.2 -8.2M726.4 231.4l8.2 8.2m-8.2 0l8.2 -8.2M727.4 232.4l8.2 8.2m-8.2 0l8.2 -8.2M727.4 233.4l8.2 8.2m-8.2 0l8.2 -8.2M731.4 235.4l8.2 8.2m-8.2 0l8.2 -8.2M729.4 237.4l8.2 8.2m-8.2 0l8.2 -8.2M729.4 242.4l8.2 8.2m-8.2 0l8.2 -8.2M734.4 243.4l8.2 8.2m-8.2 0l8.2 -8.2M738.4 244.4l8.2 8.2m-8.2 0l8.2 -8.2M742.4 247.4l8.2 8.2m-8.2 0l8.2 -8.2M734.4 249.4l8.2 8.2m-8.2 0l8.2 -8.2M734.4 249.4l8.2 8.2m-8.2 0l8.2 -8.2M740.4 251.4l8.2 8.2m-8.2 0l8.2 -8.2M746.4 253.4l8.2 8.2m-8.2 0l8.2 -8.2M746.4 254.4l8.2 8.2m-8.2 0l8.2 -8.2M746.4 255.4l8.2 8.2m-8.2 0l8.2 -8.2M746.4 258.4l8.2 8.2m-8.2 0l8.2 -8.2M746.4 260.4l8.2 8.2m-8.2 0l8.2 -8.2M746.4 261.4l8.2 8.2m-8.2 0l8.2 -8.2M749.4 263.4l8.2 8.2m-8.2 0l8.2 -8.2M749.4 265.4l8.2 8.2m-8.2 0l8.2 -8.2M750.4 267.4l8.2 8.2m-8.2 0l8.2 -8.2M750.4 269.4l8.2 8.2m-8.2 0l8.2 -8.2M746.4 271.4l8.2 8.2m-8.2 0l8.2 -8.2M744.4 274.4l8.2 8.2m-8.2 0l8.2 -8.2M744.4 276.4l8.2 8.2m-8.2 0l8.2 -8.2M749.4 278.4l8.2 8.2m-8.2 0l8.2 -8.2M755.4 281.4l8.2 8.2m-8.2 0l8.2 -8.2M758.4 283.4l8.2 8.2m-8.2 0l8.2 -8.2M762.4 285.4l8.2 8.2m-8.2 0l8.2 -8.2M762.4 287.4l8.2 8.2m-8.2 0l8.2 -8.2M760.4 290.4l8.2 8.2m-8.2 0l8.2 -8.2M760.4 292.4l8.2 8.2m-8.2 0l8.2 -8.2M761.4 294.4l8.2 8.2m-8.2 0l8.2 -8.2M765.4 297.4l8.2 8.2m-8.2 0l8.2 -8.2M766.4 299.4l8.2 8.2m-8.2 0l8.2 -8.2M765.4 301.4l8.2 8.2m-8.2 0l8.2 -8.2M764.4 303.4l8.2 8.2m-8.2 0l8.2 -8.2M765.4 305.4l8.2 8.2m-8.2 0l8.2 -8.2M765.4 307.4l8.2 8.2m-8.2 0l8.2 -8.2M764.4 309.4l8.2 8.2m-8.2 0l8.2 -8.2M765.4 311.4l8.2 8.2m-8.2 0l8.2 -8.2M766.4 313.4l8.2 8.2m-8.2 0l8.2 -8.2M766.4 315.4l8.2 8.2m-8.2 0l8.2 -8.2M767.4 317.4l8.2 8.2m-8.2 0l8.2 -8.2M767.4 319.4l8.2 8.2m-8.2 0l8.2 -8.2M767.4 321.4l8.2 8.2m-8.2 0l8.2 -8.2M764.4 324.4l8.2 8.2m-8.2 0l8.2 -8.2M763.4 326.4l8.2 8.2m-8.2 0l8.2 -8.2M761.4 328.4l8.2 8.2m-8.2 0l8.2 -8.2M764.4 331.4l8.2 8.2m-8.2 0l8.2 -8.2M769.4 333.4l8.2 8.2m-8.2 0l8.2 -8.2M772.4 335.4l8.2 8.2m-8.2 0l8.2 -8.2M774.4 337.4l8.2 8.2m-8.2 0l8.2 -8.2M777.4 339.4l8.2 8.2m-8.2 0l8.2 -8.2M779.4 341.4l8.2 8.2m-8.2 0l8.2 -8.2M780.4 343.4l8.2 8.2m-8.2 0l8.2 -8.2M782.4 345.4l8.2 8.2m-8.2 0l8.2 -8.2M784.4 347.4l8.2 8.2m-8.2 0l8.2 -8.2M786.4 349.4l8.2 8.2m-8.2 0l8.2 -8.2M786.4 352.4l8.2 8.2m-8.2 0l8.2 -8.2M787.4 354.4l8.2 8.2m-8.2 0l8.2 -8.2M787.4 356.4l8.2 8.2m-8.2 0l8.2 -8.2M789.4 359.4l8.2 8.2m-8.2 0l8.2 -8.2M791.4 361.4l8.2 8.2m-8.2 0l8.2 -8.2M793.4 363.4l8.2 8.2m-8.2 0l8.2 -8.2M789.4 366.4l8.2 8.2m-8.2 0l8.2 -8.2M784.4 368.4l8.2 8.2m-8.2 0l8.2 -8.2M785.4 370.4l8.2 8.2m-8.2 0l8.2 -8.2M786.4 373.4l8.2 8.2m-8.2 0l8.2 -8.2M787.4 375.4l8.2 8.2m-8.2 0l8.2 -8.2M788.4 377.4l8.2 8.2m-8.2 0l8.2 -8.2M788.4 379.4l8.2 8.2m-8.2 0l8.2 -8.2M789.4 381.4l8.2 8.2m-8.2 0l8.2 -8.2M790.4 383.4l8.2 8.2m-8.2 0l8.2 -8.2M791.4 385.4l8.2 8.2m-8.2 0l8.2 -8.2M793.4 388.4l8.2 8.2m-8.2 0l8.2 -8.2M796.4 390.4l8.2 8.2m-8.2 0l8.2 -8.2M797.4 392.4l8.2 8.2m-8.2 0l8.2 -8.2M800.4 394.4l8.2 8.2m-8.2 0l8.2 -8.2M802.4 396.4l8.2 8.2m-8.2 0l8.2 -8.2M804.4 398.4l8.2 8.2m-8.2 0l8.2 -8.2M806.4 401.4l8.2 8.2m-8.2 0l8.2 -8.2M807.4 403.4l8.2 8.2m-8.2 0l8.2 -8.2M806.4 405.4l8.2 8.2m-8.2 0l8.2 -8.2M808.4 408.4l8.2 8.2m-8.2 0l8.2 -8.2M807.4 410.4l8.2 8.2m-8.2 0l8.2 -8.2M808.4 412.4l8.2 8.2m-8.2 0l8.2 -8.2M809.4 415.4l8.2 8.2m-8.2 0l8.2 -8.2M809.4 417.4l8.2 8.2m-8.2 0l8.2 -8.2M809.4 419.4l8.2 8.2m-8.2 0l8.2 -8.2M810.4 422.4l8.2 8.2m-8.2 0l8.2 -8.2M811.4 424.4l8.2 8.2m-8.2 0l8.2 -8.2M812.4 426.4l8.2 8.2m-8.2 0l8.2 -8.2M813.4 428.4l8.2 8.2m-8.2 0l8.2 -8.2M814.4 430.4l8.2 8.2m-8.2 0l8.2 -8.2M814.4 432.4l8.2 8.2m-8.2 0l8.2 -8.2M815.4 435.4l8.2 8.2m-8.2 0l8.2 -8.2M815.4 437.4l8.2 8.2m-8.2 0l8.2 -8.2M816.4 439.4l8.2 8.2m-8.2 0l8.2 -8.2M815.4 441.4l8.2 8.2m-8.2 0l8.2 -8.2M817.4 443.4l8.2 8.2m-8.2 0l8.2 -8.2M819.4 445.4l8.2 8.2m-8.2 0l8.2 -8.2M822.4 447.4l8.2 8.2m-8.2 0l8.2 -8.2M824.4 450.4l8.2 8.2m-8.2 0l8.2 -8.2M825.4 452.4l8.2 8.2m-8.2 0l8.2 -8.2M826.4 454.4l8.2 8.2m-8.2 0l8.2 -8.2M826.4 456.4l8.2 8.2m-8.2 0l8.2 -8.2M826.4 458.4l8.2 8.2m-8.2 0l8.2 -8.2M827.4 460.4l8.2 8.2m-8.2 0l8.2 -8.2M830.4 462.4l8.2 8.2m-8.2 0l8.2 -8.2M830.4 464.4l8.2 8.2m-8.2 0l8.2 -8.2M832.4 466.4l8.2 8.2m-8.2 0l8.2 -8.2M835.4 469.4l8.2 8.2m-8.2 0l8.2 -8.2M837.4 471.4l8.2 8.2m-8.2 0l8.2 -8.2M839.4 474.4l8.2 8.2m-8.2 0l8.2 -8.2M841.4 476.4l8.2 8.2m-8.2 0l8.2 -8.2M843.4 478.4l8.2 8.2m-8.2 0l8.2 -8.2M845.4 480.4l8.2 8.2m-8.2 0l8.2 -8.2M848.4 482.4l8.2 8.2m-8.2 0l8.2 -8.2M850.4 484.4l8.2 8.2m-8.2 0l8.2 -8.2M850.4 486.4l8.2 8.2m-8.2 0l8.2 -8.2M853.4 489.4l8.2 8.2m-8.2 0l8.2 -8.2M857.4 492.4l8.2 8.2m-8.2 0l8.2 -8.2M866.4 494.4l8.2 8.2m-8.2 0l8.2 -8.2M866.4 496.4l8.2 8.2m-8.2 0l8.2 -8.2M867.4 498.4l8.2 8.2m-8.2 0l8.2 -8.2M869.4 500.4l8.2 8.2m-8.2 0l8.2 -8.2M871.4 502.4l8.2 8.2m-8.2 0l8.2 -8.2M872.4 504.4l8.2 8.2m-8.2 0l8.2 -8.2M873.4 507.4l8.2 8.2m-8.2 0l8.2 -8.2M873.4 509.4l8.2 8.2m-8.2 0l8.2 -8.2M874.4 512.4l8.2 8.2m-8.2 0l8.2 -8.2M874.4 514.4l8.2 8.2m-8.2 0l8.2 -8.2M875.4 516.4l8.2 8.2m-8.2 0l8.2 -8.2M875.4 519.4l8.2 8.2m-8.2 0l8.2 -8.2M877.4 521.4l8.2 8.2m-8.2 0l8.2 -8.2M878.4 523.4l8.2 8.2m-8.2 0l8.2 -8.2M881.4 525.4l8.2 8.2m-8.2 0l8.2 -8.2M882.4 527.4l8.2 8.2m-8.2 0l8.2 -8.2M883.4 529.4l8.2 8.2m-8.2 0l8.2 -8.2M884.4 531.4l8.2 8.2m-8.2 0l8.2 -8.2M884.4 533.4l8.2 8.2m-8.2 0l8.2 -8.2M885.4 536.4l8.2 8.2m-8.2 0l8.2 -8.2M885.4 538.4l8.2 8.2m-8.2 0l8.2 -8.2M886.4 541.4l8.2 8.2m-8.2 0l8.2 -8.2M887.4 543.4l8.2 8.2m-8.2 0l8.2 -8.2M887.4 546.4l8.2 8.2m-8.2 0l8.2 -8.2M889.4 548.4l8.2 8.2m-8.2 0l8.2 -8.2M889.4 551.4l8.2 8.2m-8.2 0l8.2 -8.2M890.4 553.4l8.2 8.2m-8.2 0l8.2 -8.2" fill="none" stroke="#1f77b4" stroke-width="1.4"/><circle cx="707.49" cy="191.61" r="4.8" fill="#ff0000"/><circle cx="746.56" cy="251.06" r="4.8" fill="#ff0000"/></g>
<g clip-path="url(#c2)"><path d="M1017.7 41.7 L1027.4 41.7 L1054.5 43.7 L1104.6 44.6 L1186 47.5 L1190.6 47.5 L1210.5 50.6 L1224.3 51.7 L1241.3 53.3 L1245.6 54.1 L1256.3 56.3 L1262.3 58.4 L1266.1 59.3 L1273.4 61.4 L1275.5 63.8 L1276.88 66 L1278.4 68 L1279.4 70 L1280.34 72 L1281.53 74 L1282.9 76 L1284.83 78.55 L1287.1 81.1 L1287.49 83.4 L1288.37 85.7 L1288.9 88 L1289.54 90.3 L1290.5 92.6 L1291.4 94.9 L1292.27 97.47 L1294.06 100.03 L1294.9 102.6 L1295.62 104.6 L1296.53 106.6 L1297.4 108.6 L1297.63 110.87 L1298.06 113.13 L1297.9 115.4 L1298.24 117.7 L1299.03 120 L1299.1 122.3 L1299.53 124.57 L1299.99 126.83 L1300.4 129.1 L1301.5 131.7 L1301.98 134.02 L1302.03 136.34 L1302.83 138.66 L1303.09 140.98 L1303.8 143.3 L1303.83 145.47 L1304.9 147.64 L1304.82 149.81 L1305.49 151.99 L1306.12 154.16 L1306.42 156.33 L1306.8 158.5M1310.4 166.6 L1310.7 167.4 L1311 168.3M1309.63 177.74 L1312.65 180.05 L1311.65 182.32 L1313.7 184.62 L1311.99 186.93 L1314.31 189.1 L1314.74 191.51 L1312.5 193.76 L1311.61 196.05 L1314.54 198.4 L1314.63 200.63 L1313.65 202.94 L1315.45 205.19 L1314.71 207.52 L1315.87 209.87M1315.77 214.35 L1316.34 216.66 L1316.65 219.01 L1317.06 221.34 L1318.31 223.55 L1317.96 225.82 L1319.39 228.07 L1319.55 230.36 L1319.09 232.67 L1319.22 234.96 L1319.58 237.25 L1320.35 239.49 L1319.64 241.82M1319.17 246.36 L1321.06 248.63 L1322.49 250.98 L1320.35 253.23 L1320.56 255.52 L1322.02 257.85 L1321.98 260.16 L1321.82 262.37 L1321.77 264.78 L1322.36 266.95 L1322.52 269.24 L1323.2 271.55 L1323.89 273.88 L1323.1 275.8 L1323.3 276.7 L1322.73 279.37 L1322.45 282.03 L1322 284.7 L1322.58 286.82 L1323.31 288.94 L1323.3 291.06 L1324.21 293.18 L1324.7 295.3 L1324.76 297.44 L1325.04 299.58 L1325.7 301.72 L1325.75 303.86 L1326 306 L1326.27 308.22 L1326.64 310.43 L1326.98 312.65 L1326.82 314.87 L1327.17 317.08 L1327.3 319.3 L1327.44 321.44 L1327.59 323.58 L1327.87 325.72 L1327.82 327.86 L1328 330 L1327.59 332.67 L1327.12 335.33 L1326.7 338 L1327.57 340.14 L1327.9 342.28 L1328.56 344.42 L1329.13 346.56 L1329.3 348.7 L1329.44 350.92 L1330.01 353.13 L1330.65 355.35 L1330.91 357.57 L1330.68 359.78 L1331.3 362 L1331.4 364.14 L1332.05 366.28 L1332.16 368.42 L1332.69 370.56 L1333.3 372.7 L1332.96 374.82 L1333.44 376.94 L1333.53 379.06 L1333.62 381.18 L1333.3 383.3 L1333.26 385.53 L1333.94 387.77 L1334.13 390 L1333.95 392.23 L1334.77 394.47 L1334.7 396.7 L1335.3 398.77 L1334.93 400.85 L1335.74 402.93 L1335.6 405 L1335.79 407.07 L1336.14 409.15 L1336.82 411.23 L1336.7 413.3 L1337.18 415.53 L1336.86 417.77 L1337.3 420 L1337.58 422.23 L1337.65 424.47 L1338 426.7 L1337.94 428.92 L1338.22 431.13 L1338.73 433.35 L1338.35 435.57 L1338.96 437.78 L1339.1 440 L1339.09 442.14 L1338.79 444.28 L1339.09 446.42 L1339.36 448.56 L1339.3 450.7 L1339.71 453.1 L1339.75 455.5 L1340.89 457.9 L1341.13 460.3 L1341.3 462.7 L1342.01 465.13 L1341.65 467.57 L1342.11 470 L1342.27 472.43 L1343.19 474.87 L1343.3 477.3 L1343.35 479.53 L1343.47 481.77 L1343.94 484 L1344.56 486.23 L1344.72 488.47 L1344.7 490.7 L1344.71 493.37 L1344.82 496.03 L1345.3 498.7 L1345.94 500.92 L1345.96 503.13 L1346.36 505.35 L1346.17 507.57 L1346.45 509.78 L1347.1 512 L1347.33 514.22 L1347.21 516.43 L1347.01 518.65 L1347.78 520.87 L1347.62 523.08 L1347.6 525.3 L1348.18 527.7 L1347.95 530.1 L1348.9 532.5 L1348.61 534.9 L1349.3 537.3 L1349.87 539.7 L1349.82 542.1 L1350.01 544.5 L1350.46 546.9 L1350.7 549.3 L1351.14 551.42 L1350.71 553.53 L1350.7 555.65 L1351.12 557.77" fill="none" stroke="#1f77b4" stroke-width="2.08" stroke-linejoin="round"/><path d="M1017.7 41.7 L1027.4 41.7 L1054.5 43.7 L1104.6 44.6 L1186 47.5 L1190.6 47.5 L1210.5 50.6 L1224.3 51.7 L1241.3 53.3 L1245.6 54.1 L1256.3 56.3 L1262.3 58.4 L1266.1 59.3 L1273.4 61.4 L1275.5 63.8 L1276.88 66 L1278.4 68 L1279.4 70 L1280.34 72 L1281.53 74 L1282.9 76 L1284.83 78.55 L1287.1 81.1 L1287.49 83.4 L1288.37 85.7 L1288.9 88 L1289.54 90.3 L1290.5 92.6 L1291.4 94.9 L1292.27 97.47 L1294.06 100.03 L1294.9 102.6 L1295.62 104.6 L1296.53 106.6 L1297.4 108.6 L1297.63 110.87 L1298.06 113.13 L1297.9 115.4 L1298.24 117.7 L1299.03 120 L1299.1 122.3 L1299.53 124.57 L1299.99 126.83 L1300.4 129.1 L1301.5 131.7 L1301.98 134.02 L1302.03 136.34 L1302.83 138.66 L1303.09 140.98 L1303.8 143.3 L1303.83 145.47 L1304.9 147.64 L1304.82 149.81 L1305.49 151.99 L1306.12 154.16 L1306.42 156.33 L1306.8 158.5M1310.4 166.6 L1310.7 167.4 L1311 168.3M1309.63 177.74 L1312.65 180.05 L1311.65 182.32 L1313.7 184.62 L1311.99 186.93 L1314.31 189.1M1312.5 193.76 L1311.61 196.05 L1314.54 198.4 L1314.63 200.63 L1313.65 202.94 L1315.45 205.19 L1314.71 207.52 L1315.87 209.87M1315.77 214.35 L1316.34 216.66 L1316.65 219.01 L1317.06 221.34 L1318.31 223.55 L1317.96 225.82 L1319.39 228.07 L1319.55 230.36 L1319.09 232.67 L1319.22 234.96 L1319.58 237.25 L1320.35 239.49 L1319.64 241.82M1319.17 246.36 L1321.06 248.63M1320.35 253.23 L1320.56 255.52 L1322.02 257.85 L1321.98 260.16 L1321.82 262.37 L1321.77 264.78 L1322.36 266.95 L1322.52 269.24 L1323.2 271.55 L1323.89 273.88 L1323.1 275.8 L1323.3 276.7 L1322.73 279.37 L1322.45 282.03 L1322 284.7 L1322.58 286.82 L1323.31 288.94 L1323.3 291.06 L1324.21 293.18 L1324.7 295.3 L1324.76 297.44 L1325.04 299.58 L1325.7 301.72 L1325.75 303.86 L1326 306 L1326.27 308.22 L1326.64 310.43 L1326.98 312.65 L1326.82 314.87 L1327.17 317.08 L1327.3 319.3 L1327.44 321.44 L1327.59 323.58 L1327.87 325.72 L1327.82 327.86 L1328 330 L1327.59 332.67 L1327.12 335.33 L1326.7 338 L1327.57 340.14 L1327.9 342.28 L1328.56 344.42 L1329.13 346.56 L1329.3 348.7 L1329.44 350.92 L1330.01 353.13 L1330.65 355.35 L1330.91 357.57 L1330.68 359.78 L1331.3 362 L1331.4 364.14 L1332.05 366.28 L1332.16 368.42 L1332.69 370.56 L1333.3 372.7 L1332.96 374.82 L1333.44 376.94 L1333.53 379.06 L1333.62 381.18 L1333.3 383.3 L1333.26 385.53 L1333.94 387.77 L1334.13 390 L1333.95 392.23 L1334.77 394.47 L1334.7 396.7 L1335.3 398.77 L1334.93 400.85 L1335.74 402.93 L1335.6 405 L1335.79 407.07 L1336.14 409.15 L1336.82 411.23 L1336.7 413.3 L1337.18 415.53 L1336.86 417.77 L1337.3 420 L1337.58 422.23 L1337.65 424.47 L1338 426.7 L1337.94 428.92 L1338.22 431.13 L1338.73 433.35 L1338.35 435.57 L1338.96 437.78 L1339.1 440 L1339.09 442.14 L1338.79 444.28 L1339.09 446.42 L1339.36 448.56 L1339.3 450.7 L1339.71 453.1 L1339.75 455.5 L1340.89 457.9 L1341.13 460.3 L1341.3 462.7 L1342.01 465.13 L1341.65 467.57 L1342.11 470 L1342.27 472.43 L1343.19 474.87 L1343.3 477.3 L1343.35 479.53 L1343.47 481.77 L1343.94 484 L1344.56 486.23 L1344.72 488.47 L1344.7 490.7 L1344.71 493.37 L1344.82 496.03 L1345.3 498.7 L1345.94 500.92 L1345.96 503.13 L1346.36 505.35 L1346.17 507.57 L1346.45 509.78 L1347.1 512 L1347.33 514.22 L1347.21 516.43 L1347.01 518.65 L1347.78 520.87 L1347.62 523.08 L1347.6 525.3 L1348.18 527.7 L1347.95 530.1 L1348.9 532.5 L1348.61 534.9 L1349.3 537.3 L1349.87 539.7 L1349.82 542.1 L1350.01 544.5 L1350.46 546.9 L1350.7 549.3 L1351.14 551.42 L1350.71 553.53 L1350.7 555.65 L1351.12 557.77" fill="none" stroke="#bf00bf" stroke-width="2.08" stroke-linejoin="round" stroke-dasharray="7.7 3.33"/><path d="M1017.5 37.33l-4.17 8.34h8.34zM1027.5 37.33l-4.17 8.34h8.34zM1054.5 39.33l-4.17 8.34h8.34zM1104.5 40.33l-4.17 8.34h8.34zM1186.5 43.33l-4.17 8.34h8.34zM1190.5 43.33l-4.17 8.34h8.34zM1210.5 46.33l-4.17 8.34h8.34zM1224.5 47.33l-4.17 8.34h8.34zM1241.5 49.33l-4.17 8.34h8.34zM1245.5 50.33l-4.17 8.34h8.34zM1256.5 52.33l-4.17 8.34h8.34zM1262.5 54.33l-4.17 8.34h8.34zM1266.5 55.33l-4.17 8.34h8.34zM1273.5 57.33l-4.17 8.34h8.34zM1275.5 59.33l-4.17 8.34h8.34zM1276.5 62.33l-4.17 8.34h8.34zM1278.5 64.33l-4.17 8.34h8.34zM1279.5 66.33l-4.17 8.34h8.34zM1280.5 68.33l-4.17 8.34h8.34zM1281.5 70.33l-4.17 8.34h8.34zM1282.5 72.33l-4.17 8.34h8.34zM1284.5 74.33l-4.17 8.34h8.34zM1287.5 77.33l-4.17 8.34h8.34zM1287.5 79.33l-4.17 8.34h8.34zM1288.5 81.33l-4.17 8.34h8.34zM1288.5 84.33l-4.17 8.34h8.34zM1289.5 86.33l-4.17 8.34h8.34zM1290.5 88.33l-4.17 8.34h8.34zM1291.5 90.33l-4.17 8.34h8.34zM1292.5 93.33l-4.17 8.34h8.34zM1294.5 96.33l-4.17 8.34h8.34zM1294.5 98.33l-4.17 8.34h8.34zM1295.5 100.33l-4.17 8.34h8.34zM1296.5 102.33l-4.17 8.34h8.34zM1297.5 104.33l-4.17 8.34h8.34zM1297.5 106.33l-4.17 8.34h8.34zM1298.5 109.33l-4.17 8.34h8.34zM1297.5 111.33l-4.17 8.34h8.34zM1298.5 113.33l-4.17 8.34h8.34zM1299.5 116.33l-4.17 8.34h8.34zM1299.5 118.33l-4.17 8.34h8.34zM1299.5 120.33l-4.17 8.34h8.34zM1299.5 122.33l-4.17 8.34h8.34zM1300.5 125.33l-4.17 8.34h8.34zM1301.5 127.33l-4.17 8.34h8.34zM1301.5 130.33l-4.17 8.34h8.34zM1302.5 132.33l-4.17 8.34h8.34zM1302.5 134.33l-4.17 8.34h8.34zM1303.5 136.33l-4.17 8.34h8.34zM1303.5 139.33l-4.17 8.34h8.34zM1303.5 141.33l-4.17 8.34h8.34zM1304.5 143.33l-4.17 8.34h8.34zM1304.5 145.33l-4.17 8.34h8.34zM1305.5 147.33l-4.17 8.34h8.34zM1306.5 150.33l-4.17 8.34h8.34zM1306.5 152.33l-4.17 8.34h8.34zM1306.5 154.33l-4.17 8.34h8.34zM1310.5 162.33l-4.17 8.34h8.34zM1310.5 163.33l-4.17 8.34h8.34zM1311.5 164.33l-4.17 8.34h8.34zM1309.5 173.33l-4.17 8.34h8.34zM1312.5 176.33l-4.17 8.34h8.34zM1311.5 178.33l-4.17 8.34h8.34zM1313.5 180.33l-4.17 8.34h8.34zM1311.5 182.33l-4.17 8.34h8.34zM1314.5 185.33l-4.17 8.34h8.34zM1312.5 189.33l-4.17 8.34h8.34zM1311.5 192.33l-4.17 8.34h8.34zM1314.5 194.33l-4.17 8.34h8.34zM1314.5 196.33l-4.17 8.34h8.34zM1313.5 198.33l-4.17 8.34h8.34zM1315.5 201.33l-4.17 8.34h8.34zM1314.5 203.33l-4.17 8.34h8.34zM1315.5 205.33l-4.17 8.34h8.34zM1315.5 210.33l-4.17 8.34h8.34zM1316.5 212.33l-4.17 8.34h8.34zM1316.5 215.33l-4.17 8.34h8.34zM1317.5 217.33l-4.17 8.34h8.34zM1318.5 219.33l-4.17 8.34h8.34zM1317.5 221.33l-4.17 8.34h8.34zM1319.5 224.33l-4.17 8.34h8.34zM1319.5 226.33l-4.17 8.34h8.34zM1319.5 228.33l-4.17 8.34h8.34zM1319.5 230.33l-4.17 8.34h8.34zM1319.5 233.33l-4.17 8.34h8.34zM1320.5 235.33l-4.17 8.34h8.34zM1319.5 237.33l-4.17 8.34h8.34zM1319.5 242.33l-4.17 8.34h8.34zM1321.5 244.33l-4.17 8.34h8.34zM1320.5 249.33l-4.17 8.34h8.34zM1320.5 251.33l-4.17 8.34h8.34zM1322.5 253.33l-4.17 8.34h8.34zM1321.5 256.33l-4.17 8.34h8.34zM1321.5 258.33l-4.17 8.34h8.34zM1321.5 260.33l-4.17 8.34h8.34zM1322.5 262.33l-4.17 8.34h8.34zM1322.5 265.33l-4.17 8.34h8.34zM1323.5 267.33l-4.17 8.34h8.34zM1323.5 269.33l-4.17 8.34h8.34zM1323.5 271.33l-4.17 8.34h8.34zM1323.5 272.33l-4.17 8.34h8.34zM1322.5 275.33l-4.17 8.34h8.34zM1322.5 278.33l-4.17 8.34h8.34zM1322.5 280.33l-4.17 8.34h8.34zM1322.5 282.33l-4.17 8.34h8.34zM1323.5 284.33l-4.17 8.34h8.34zM1323.5 287.33l-4.17 8.34h8.34zM1324.5 289.33l-4.17 8.34h8.34zM1324.5 291.33l-4.17 8.34h8.34zM1324.5 293.33l-4.17 8.34h8.34zM1325.5 295.33l-4.17 8.34h8.34zM1325.5 297.33l-4.17 8.34h8.34zM1325.5 299.33l-4.17 8.34h8.34zM1326.5 302.33l-4.17 8.34h8.34zM1326.5 304.33l-4.17 8.34h8.34zM1326.5 306.33l-4.17 8.34h8.34zM1326.5 308.33l-4.17 8.34h8.34zM1326.5 310.33l-4.17 8.34h8.34zM1327.5 313.33l-4.17 8.34h8.34zM1327.5 315.33l-4.17 8.34h8.34zM1327.5 317.33l-4.17 8.34h8.34zM1327.5 319.33l-4.17 8.34h8.34zM1327.5 321.33l-4.17 8.34h8.34zM1327.5 323.33l-4.17 8.34h8.34zM1328.5 326.33l-4.17 8.34h8.34zM1327.5 328.33l-4.17 8.34h8.34zM1327.5 331.33l-4.17 8.34h8.34zM1326.5 334.33l-4.17 8.34h8.34zM1327.5 336.33l-4.17 8.34h8.34zM1327.5 338.33l-4.17 8.34h8.34zM1328.5 340.33l-4.17 8.34h8.34zM1329.5 342.33l-4.17 8.34h8.34zM1329.5 344.33l-4.17 8.34h8.34zM1329.5 346.33l-4.17 8.34h8.34zM1330.5 349.33l-4.17 8.34h8.34zM1330.5 351.33l-4.17 8.34h8.34zM1330.5 353.33l-4.17 8.34h8.34zM1330.5 355.33l-4.17 8.34h8.34zM1331.5 358.33l-4.17 8.34h8.34zM1331.5 360.33l-4.17 8.34h8.34zM1332.5 362.33l-4.17 8.34h8.34zM1332.5 364.33l-4.17 8.34h8.34zM1332.5 366.33l-4.17 8.34h8.34zM1333.5 368.33l-4.17 8.34h8.34zM1332.5 370.33l-4.17 8.34h8.34zM1333.5 372.33l-4.17 8.34h8.34zM1333.5 375.33l-4.17 8.34h8.34zM1333.5 377.33l-4.17 8.34h8.34zM1333.5 379.33l-4.17 8.34h8.34zM1333.5 381.33l-4.17 8.34h8.34zM1333.5 383.33l-4.17 8.34h8.34zM1334.5 386.33l-4.17 8.34h8.34zM1333.5 388.33l-4.17 8.34h8.34zM1334.5 390.33l-4.17 8.34h8.34zM1334.5 392.33l-4.17 8.34h8.34zM1335.5 394.33l-4.17 8.34h8.34zM1334.5 396.33l-4.17 8.34h8.34zM1335.5 398.33l-4.17 8.34h8.34zM1335.5 401.33l-4.17 8.34h8.34zM1335.5 403.33l-4.17 8.34h8.34zM1336.5 405.33l-4.17 8.34h8.34zM1336.5 407.33l-4.17 8.34h8.34zM1336.5 409.33l-4.17 8.34h8.34zM1337.5 411.33l-4.17 8.34h8.34zM1336.5 413.33l-4.17 8.34h8.34zM1337.5 416.33l-4.17 8.34h8.34zM1337.5 418.33l-4.17 8.34h8.34zM1337.5 420.33l-4.17 8.34h8.34zM1338.5 422.33l-4.17 8.34h8.34zM1337.5 424.33l-4.17 8.34h8.34zM1338.5 427.33l-4.17 8.34h8.34zM1338.5 429.33l-4.17 8.34h8.34zM1338.5 431.33l-4.17 8.34h8.34zM1338.5 433.33l-4.17 8.34h8.34zM1339.5 436.33l-4.17 8.34h8.34zM1339.5 438.33l-4.17 8.34h8.34zM1338.5 440.33l-4.17 8.34h8.34zM1339.5 442.33l-4.17 8.34h8.34zM1339.5 444.33l-4.17 8.34h8.34zM1339.5 446.33l-4.17 8.34h8.34zM1339.5 449.33l-4.17 8.34h8.34zM1339.5 451.33l-4.17 8.34h8.34zM1340.5 453.33l-4.17 8.34h8.34zM1341.5 456.33l-4.17 8.34h8.34zM1341.5 458.33l-4.17 8.34h8.34zM1342.5 461.33l-4.17 8.34h8.34zM1341.5 463.33l-4.17 8.34h8.34zM1342.5 466.33l-4.17 8.34h8.34zM1342.5 468.33l-4.17 8.34h8.34zM1343.5 470.33l-4.17 8.34h8.34zM1343.5 473.33l-4.17 8.34h8.34zM1343.5 475.33l-4.17 8.34h8.34zM1343.5 477.33l-4.17 8.34h8.34zM1343.5 480.33l-4.17 8.34h8.34zM1344.5 482.33l-4.17 8.34h8.34zM1344.5 484.33l-4.17 8.34h8.34zM1344.5 486.33l-4.17 8.34h8.34zM1344.5 489.33l-4.17 8.34h8.34zM1344.5 492.33l-4.17 8.34h8.34zM1345.5 494.33l-4.17 8.34h8.34zM1345.5 496.33l-4.17 8.34h8.34zM1345.5 499.33l-4.17 8.34h8.34zM1346.5 501.33l-4.17 8.34h8.34zM1346.5 503.33l-4.17 8.34h8.34zM1346.5 505.33l-4.17 8.34h8.34zM1347.5 508.33l-4.17 8.34h8.34zM1347.5 510.33l-4.17 8.34h8.34zM1347.5 512.33l-4.17 8.34h8.34zM1347.5 514.33l-4.17 8.34h8.34zM1347.5 516.33l-4.17 8.34h8.34zM1347.5 519.33l-4.17 8.34h8.34zM1347.5 521.33l-4.17 8.34h8.34zM1348.5 523.33l-4.17 8.34h8.34zM1347.5 526.33l-4.17 8.34h8.34zM1348.5 528.33l-4.17 8.34h8.34zM1348.5 530.33l-4.17 8.34h8.34zM1349.5 533.33l-4.17 8.34h8.34zM1349.5 535.33l-4.17 8.34h8.34zM1349.5 538.33l-4.17 8.34h8.34zM1350.5 540.33l-4.17 8.34h8.34zM1350.5 542.33l-4.17 8.34h8.34zM1350.5 545.33l-4.17 8.34h8.34zM1351.5 547.33l-4.17 8.34h8.34zM1350.5 549.33l-4.17 8.34h8.34zM1350.5 551.33l-4.17 8.34h8.34zM1351.5 553.33l-4.17 8.34h8.34z" fill="#bf00bf" stroke="#bf00bf" stroke-width="1.2" stroke-linejoin="round"/></g>
<g clip-path="url(#c3)"><path d="M310.3 663.3 L296 671.3 L289.1 674.9 L276.1 686.1 L219.5 696.8 L217.3 697.3 L184.1 709 L174.7 716.1 L167.9 720.6 L104.2 732.2 L107 743.3 L113.4 744.6 L162.1 754.2 L181.3 766.5 L184.1 777.1 L203.4 785 L211.3 788.9 L245 800.1 L252.1 810 L250.6 811 L258.5 823.2M194.6 846.3 L229.6 857.2 L270.9 867.4 L277.1 868 L288.7 880.8 L293.8 887.9 L296.4 892.6 L292.3 902.4 L256.1 914.1 L225.1 925.1 L225.1 930.1 L224.5 937.1 L241.4 948.5 L241.1 957.5 L240.8 959 L261.7 971.4 L266.4 982.3M282.5 1005.3 L312.5 1012.3 L332 1016.2 L314.3 1028.2 L307.4 1038.9 L311.9 1040.5 L386.7 1051 L412.5 1062.2 L412.4 1066.8 L411 1072.6 L420.7 1085.4 L415.3 1096.1 L419.6 1098.3 L439.3 1108 L423.1 1119.2 L400.3 1130.5 L358.1 1141.4" fill="none" stroke="#1f77b4" stroke-width="2.08" stroke-linejoin="round"/><path d="M340.4 615.4l8.2 8.2m-8.2 0l8.2 -8.2M306.4 659.4l8.2 8.2m-8.2 0l8.2 -8.2M292.4 667.4l8.2 8.2m-8.2 0l8.2 -8.2M285.4 670.4l8.2 8.2m-8.2 0l8.2 -8.2M272.4 682.4l8.2 8.2m-8.2 0l8.2 -8.2M215.4 692.4l8.2 8.2m-8.2 0l8.2 -8.2M213.4 693.4l8.2 8.2m-8.2 0l8.2 -8.2M180.4 705.4l8.2 8.2m-8.2 0l8.2 -8.2M170.4 712.4l8.2 8.2m-8.2 0l8.2 -8.2M163.4 716.4l8.2 8.2m-8.2 0l8.2 -8.2M100.4 728.4l8.2 8.2m-8.2 0l8.2 -8.2M103.4 739.4l8.2 8.2m-8.2 0l8.2 -8.2M109.4 740.4l8.2 8.2m-8.2 0l8.2 -8.2M158.4 750.4l8.2 8.2m-8.2 0l8.2 -8.2M177.4 762.4l8.2 8.2m-8.2 0l8.2 -8.2M180.4 773.4l8.2 8.2m-8.2 0l8.2 -8.2M199.4 781.4l8.2 8.2m-8.2 0l8.2 -8.2M207.4 784.4l8.2 8.2m-8.2 0l8.2 -8.2M241.4 796.4l8.2 8.2m-8.2 0l8.2 -8.2M248.4 806.4l8.2 8.2m-8.2 0l8.2 -8.2M246.4 807.4l8.2 8.2m-8.2 0l8.2 -8.2M254.4 819.4l8.2 8.2m-8.2 0l8.2 -8.2M190.4 842.4l8.2 8.2m-8.2 0l8.2 -8.2M225.4 853.4l8.2 8.2m-8.2 0l8.2 -8.2M266.4 863.4l8.2 8.2m-8.2 0l8.2 -8.2M273.4 864.4l8.2 8.2m-8.2 0l8.2 -8.2M284.4 876.4l8.2 8.2m-8.2 0l8.2 -8.2M289.4 883.4l8.2 8.2m-8.2 0l8.2 -8.2M292.4 888.4l8.2 8.2m-8.2 0l8.2 -8.2M288.4 898.4l8.2 8.2m-8.2 0l8.2 -8.2M252.4 910.4l8.2 8.2m-8.2 0l8.2 -8.2M221.4 921.4l8.2 8.2m-8.2 0l8.2 -8.2M221.4 926.4l8.2 8.2m-8.2 0l8.2 -8.2M220.4 933.4l8.2 8.2m-8.2 0l8.2 -8.2M237.4 944.4l8.2 8.2m-8.2 0l8.2 -8.2M237.4 953.4l8.2 8.2m-8.2 0l8.2 -8.2M236.4 955.4l8.2 8.2m-8.2 0l8.2 -8.2M257.4 967.4l8.2 8.2m-8.2 0l8.2 -8.2M262.4 978.4l8.2 8.2m-8.2 0l8.2 -8.2M278.4 1001.4l8.2 8.2m-8.2 0l8.2 -8.2M308.4 1008.4l8.2 8.2m-8.2 0l8.2 -8.2M328.4 1012.4l8.2 8.2m-8.2 0l8.2 -8.2M310.4 1024.4l8.2 8.2m-8.2 0l8.2 -8.2M303.4 1034.4l8.2 8.2m-8.2 0l8.2 -8.2M307.4 1036.4l8.2 8.2m-8.2 0l8.2 -8.2M382.4 1047.4l8.2 8.2m-8.2 0l8.2 -8.2M408.4 1058.4l8.2 8.2m-8.2 0l8.2 -8.2M408.4 1062.4l8.2 8.2m-8.2 0l8.2 -8.2M407.4 1068.4l8.2 8.2m-8.2 0l8.2 -8.2M416.4 1081.4l8.2 8.2m-8.2 0l8.2 -8.2M411.4 1092.4l8.2 8.2m-8.2 0l8.2 -8.2M415.4 1094.4l8.2 8.2m-8.2 0l8.2 -8.2M435.4 1104.4l8.2 8.2m-8.2 0l8.2 -8.2M419.4 1115.4l8.2 8.2m-8.2 0l8.2 -8.2M396.4 1126.4l8.2 8.2m-8.2 0l8.2 -8.2M354.4 1137.4l8.2 8.2m-8.2 0l8.2 -8.2" fill="none" stroke="#1f77b4" stroke-width="1.4"/></g>
<g clip-path="url(#c4)"><path d="M569.6 663.3 L607.8 671.3 L627.3 674.9 L600.5 686.1 L624.4 696.8 L623.2 697.3 L577.8 709 L603.5 716.1 L621.3 720.6 L609.5 732.2 L562 743.3 L561.2 744.6 L560.6 754.2 L630.5 766.5 L633.5 777.1 L624.5 785 L621.5 788.9 L672.1 800.1 L660.3 810 L658.1 811 L685.6 823.2M661.7 846.3 L685.5 857.2 L706.3 867.4 L709.1 868 L722.8 880.8 L741.6 887.9 L752.3 892.6 L742.7 902.4 L761.6 914.1 L753.3 925.1 L749.3 930.1 L743.4 937.1 L752.5 948.5 L757.4 957.5 L759.2 959 L783.4 971.4 L769.5 982.3M765.6 1005.3 L801.6 1012.3 L824.1 1016.2 L848.4 1028.2 L799.6 1038.9 L801.6 1040.5 L833.6 1051 L875.4 1062.2 L874.2 1066.8 L873.4 1072.6 L873.1 1085.4 L870.3 1096.1 L874.4 1098.3 L893 1108 L890.3 1119.2 L895.6 1130.5 L894.1 1141.4" fill="none" stroke="#1f77b4" stroke-width="2.08" stroke-linejoin="round"/><path d="M591.4 615.4l8.2 8.2m-8.2 0l8.2 -8.2M565.4 659.4l8.2 8.2m-8.2 0l8.2 -8.2M603.4 667.4l8.2 8.2m-8.2 0l8.2 -8.2M623.4 670.4l8.2 8.2m-8.2 0l8.2 -8.2M596.4 682.4l8.2 8.2m-8.2 0l8.2 -8.2M620.4 692.4l8.2 8.2m-8.2 0l8.2 -8.2M619.4 693.4l8.2 8.2m-8.2 0l8.2 -8.2M573.4 705.4l8.2 8.2m-8.2 0l8.2 -8.2M599.4 712.4l8.2 8.2m-8.2 0l8.2 -8.2M617.4 716.4l8.2 8.2m-8.2 0l8.2 -8.2M558.4 739.4l8.2 8.2m-8.2 0l8.2 -8.2M557.4 740.4l8.2 8.2m-8.2 0l8.2 -8.2M556.4 750.4l8.2 8.2m-8.2 0l8.2 -8.2M626.4 762.4l8.2 8.2m-8.2 0l8.2 -8.2M629.4 773.4l8.2 8.2m-8.2 0l8.2 -8.2M620.4 781.4l8.2 8.2m-8.2 0l8.2 -8.2M617.4 784.4l8.2 8.2m-8.2 0l8.2 -8.2M668.4 796.4l8.2 8.2m-8.2 0l8.2 -8.2M656.4 806.4l8.2 8.2m-8.2 0l8.2 -8.2M654.4 807.4l8.2 8.2m-8.2 0l8.2 -8.2M681.4 819.4l8.2 8.2m-8.2 0l8.2 -8.2M657.4 842.4l8.2 8.2m-8.2 0l8.2 -8.2M681.4 853.4l8.2 8.2m-8.2 0l8.2 -8.2M702.4 863.4l8.2 8.2m-8.2 0l8.2 -8.2M705.4 864.4l8.2 8.2m-8.2 0l8.2 -8.2M718.4 876.4l8.2 8.2m-8.2 0l8.2 -8.2M737.4 883.4l8.2 8.2m-8.2 0l8.2 -8.2M748.4 888.4l8.2 8.2m-8.2 0l8.2 -8.2M738.4 898.4l8.2 8.2m-8.2 0l8.2 -8.2M757.4 910.4l8.2 8.2m-8.2 0l8.2 -8.2M749.4 921.4l8.2 8.2m-8.2 0l8.2 -8.2M745.4 926.4l8.2 8.2m-8.2 0l8.2 -8.2M739.4 933.4l8.2 8.2m-8.2 0l8.2 -8.2M748.4 944.4l8.2 8.2m-8.2 0l8.2 -8.2M753.4 953.4l8.2 8.2m-8.2 0l8.2 -8.2M755.4 955.4l8.2 8.2m-8.2 0l8.2 -8.2M779.4 967.4l8.2 8.2m-8.2 0l8.2 -8.2M765.4 978.4l8.2 8.2m-8.2 0l8.2 -8.2M761.4 1001.4l8.2 8.2m-8.2 0l8.2 -8.2M797.4 1008.4l8.2 8.2m-8.2 0l8.2 -8.2M820.4 1012.4l8.2 8.2m-8.2 0l8.2 -8.2M795.4 1034.4l8.2 8.2m-8.2 0l8.2 -8.2M797.4 1036.4l8.2 8.2m-8.2 0l8.2 -8.2M829.4 1047.4l8.2 8.2m-8.2 0l8.2 -8.2M871.4 1058.4l8.2 8.2m-8.2 0l8.2 -8.2M870.4 1062.4l8.2 8.2m-8.2 0l8.2 -8.2M869.4 1068.4l8.2 8.2m-8.2 0l8.2 -8.2M869.4 1081.4l8.2 8.2m-8.2 0l8.2 -8.2M866.4 1092.4l8.2 8.2m-8.2 0l8.2 -8.2M870.4 1094.4l8.2 8.2m-8.2 0l8.2 -8.2M889.4 1104.4l8.2 8.2m-8.2 0l8.2 -8.2M886.4 1115.4l8.2 8.2m-8.2 0l8.2 -8.2M891.4 1126.4l8.2 8.2m-8.2 0l8.2 -8.2M890.4 1137.4l8.2 8.2m-8.2 0l8.2 -8.2" fill="none" stroke="#1f77b4" stroke-width="1.4"/><circle cx="609.5" cy="732.2" r="4.8" fill="#ff0000"/><circle cx="848.4" cy="1028.2" r="4.8" fill="#ff0000"/></g>
<g clip-path="url(#c5)"><path d="M1016.1 663.1 L1087.2 674.6 L1063.6 685.9 L1111.9 697.4 L1071.8 708.9 L1126.2 719.7 L1136.4 731.7 L1083.8 742.9 L1062.7 754.3 L1131.8 766 L1133.9 777.1 L1110.7 788.6 L1153.1 799.8 L1135.6 811.4 L1163 823.1M1160.7 845.4 L1174.1 856.9 L1181.3 868.6 L1191.1 880.2 L1220.4 891.2 L1212.1 902.5 L1245.8 913.7 L1249.5 925.1 L1238.7 936.6 L1241.8 948 L1250.2 959.4 L1268.4 970.6 L1251.6 982.2M1240.7 1004.8 L1285.2 1016.1 L1318.8 1027.8 L1268.5 1039 L1273.3 1050.4 L1307.8 1062 L1306.7 1073.5 L1303 1084.5 L1301.9 1096.5 L1315.7 1107.3 L1319.5 1118.7 L1335.5 1130.2 L1351.7 1141.8" fill="none" stroke="#1f77b4" stroke-width="2.08" stroke-linejoin="round"/><path d="M1016.1 663.1 L1087.2 674.6 L1063.6 685.9 L1111.9 697.4 L1071.8 708.9 L1126.2 719.7M1083.8 742.9 L1062.7 754.3 L1131.8 766 L1133.9 777.1 L1110.7 788.6 L1153.1 799.8 L1135.6 811.4 L1163 823.1M1160.7 845.4 L1174.1 856.9 L1181.3 868.6 L1191.1 880.2 L1220.4 891.2 L1212.1 902.5 L1245.8 913.7 L1249.5 925.1 L1238.7 936.6 L1241.8 948 L1250.2 959.4 L1268.4 970.6 L1251.6 982.2M1240.7 1004.8 L1285.2 1016.1M1268.5 1039 L1273.3 1050.4 L1307.8 1062 L1306.7 1073.5 L1303 1084.5 L1301.9 1096.5 L1315.7 1107.3 L1319.5 1118.7 L1335.5 1130.2 L1351.7 1141.8" fill="none" stroke="#bf00bf" stroke-width="2.08" stroke-linejoin="round" stroke-dasharray="7.7 3.33"/></g>
<path d="M71.5 35.5H473.5V559.5H71.5ZM527.5 35.5H929.5V559.5H527.5ZM983.5 35.5H1385.5V559.5H983.5ZM71.5 618.5H473.5V1142.5H71.5ZM527.5 618.5H929.5V1142.5H527.5ZM983.5 618.5H1385.5V1142.5H983.5Z" fill="none" stroke="#000" stroke-width="1.11" stroke-linejoin="miter"/>
<path d="M91.5 559.5v4.86M136.5 559.5v4.86M181.5 559.5v4.86M226.5 559.5v4.86M271.5 559.5v4.86M316.5 559.5v4.86M361.5 559.5v4.86M406.5 559.5v4.86M451.5 559.5v4.86M556.5 559.5v4.86M604.5 559.5v4.86M653.5 559.5v4.86M701.5 559.5v4.86M750.5 559.5v4.86M798.5 559.5v4.86M847.5 559.5v4.86M895.5 559.5v4.86M1006.5 559.5v4.86M1091.5 559.5v4.86M1175.5 559.5v4.86M1260.5 559.5v4.86M1345.5 559.5v4.86M124.5 1142.5v4.86M192.5 1142.5v4.86M259.5 1142.5v4.86M327.5 1142.5v4.86M395.5 1142.5v4.86M462.5 1142.5v4.86M574.5 1142.5v4.86M648.5 1142.5v4.86M722.5 1142.5v4.86M796.5 1142.5v4.86M870.5 1142.5v4.86M1010.5 1142.5v4.86M1060.5 1142.5v4.86M1110.5 1142.5v4.86M1159.5 1142.5v4.86M1209.5 1142.5v4.86M1259.5 1142.5v4.86M1309.5 1142.5v4.86M1359.5 1142.5v4.86M71.5 35.5h-4.86M71.5 150.5h-4.86M71.5 264.5h-4.86M71.5 379.5h-4.86M71.5 493.5h-4.86M71.5 639.5h-4.86M71.5 753.5h-4.86M71.5 867.5h-4.86M71.5 981.5h-4.86M71.5 1095.5h-4.86M527.5 35.5h-4.86M527.5 150.5h-4.86M527.5 264.5h-4.86M527.5 379.5h-4.86M527.5 493.5h-4.86M527.5 639.5h-4.86M527.5 753.5h-4.86M527.5 867.5h-4.86M527.5 981.5h-4.86M527.5 1095.5h-4.86M983.5 35.5h-4.86M983.5 150.5h-4.86M983.5 264.5h-4.86M983.5 379.5h-4.86M983.5 493.5h-4.86M983.5 639.5h-4.86M983.5 753.5h-4.86M983.5 867.5h-4.86M983.5 981.5h-4.86M983.5 1095.5h-4.86" fill="none" stroke="#000" stroke-width="1.11"/>
<g opacity="0.999"><text x="90.9" y="580.35" font-size="14.8" text-anchor="middle" textLength="21.54" lengthAdjust="spacingAndGlyphs">0.0</text><text x="135.9" y="580.35" font-size="14.8" text-anchor="middle" textLength="21.54" lengthAdjust="spacingAndGlyphs">2.5</text><text x="180.9" y="580.35" font-size="14.8" text-anchor="middle" textLength="21.54" lengthAdjust="spacingAndGlyphs">5.0</text><text x="225.9" y="580.35" font-size="14.8" text-anchor="middle" textLength="21.54" lengthAdjust="spacingAndGlyphs">7.5</text><text x="270.9" y="580.35" font-size="14.8" text-anchor="middle" textLength="30.15" lengthAdjust="spacingAndGlyphs">10.0</text><text x="315.9" y="580.35" font-size="14.8" text-anchor="middle" textLength="30.15" lengthAdjust="spacingAndGlyphs">12.5</text><text x="360.9" y="580.35" font-size="14.8" text-anchor="middle" textLength="30.15" lengthAdjust="spacingAndGlyphs">15.0</text><text x="405.9" y="580.35" font-size="14.8" text-anchor="middle" textLength="30.15" lengthAdjust="spacingAndGlyphs">17.5</text><text x="450.9" y="580.35" font-size="14.8" text-anchor="middle" textLength="30.15" lengthAdjust="spacingAndGlyphs">20.0</text><text x="272.5" y="599.9" font-size="14.6" text-anchor="middle" textLength="8.48" lengthAdjust="spacingAndGlyphs">T</text><text x="556" y="580.35" font-size="14.8" text-anchor="middle" textLength="30.15" lengthAdjust="spacingAndGlyphs">32.6</text><text x="604.42" y="580.35" font-size="14.8" text-anchor="middle" textLength="30.15" lengthAdjust="spacingAndGlyphs">32.8</text><text x="652.84" y="580.35" font-size="14.8" text-anchor="middle" textLength="30.15" lengthAdjust="spacingAndGlyphs">33.0</text><text x="701.26" y="580.35" font-size="14.8" text-anchor="middle" textLength="30.15" lengthAdjust="spacingAndGlyphs">33.2</text><text x="749.68" y="580.35" font-size="14.8" text-anchor="middle" textLength="30.15" lengthAdjust="spacingAndGlyphs">33.4</text><text x="798.1" y="580.35" font-size="14.8" text-anchor="middle" textLength="30.15" lengthAdjust="spacingAndGlyphs">33.6</text><text x="846.52" y="580.35" font-size="14.8" text-anchor="middle" textLength="30.15" lengthAdjust="spacingAndGlyphs">33.8</text><text x="894.94" y="580.35" font-size="14.8" text-anchor="middle" textLength="30.15" lengthAdjust="spacingAndGlyphs">34.0</text><text x="728.5" y="599.9" font-size="14.6" text-anchor="middle" textLength="8.82" lengthAdjust="spacingAndGlyphs">S</text><text x="1005.9" y="580.35" font-size="14.8" text-anchor="middle" textLength="17.23" lengthAdjust="spacingAndGlyphs">23</text><text x="1090.65" y="580.35" font-size="14.8" text-anchor="middle" textLength="17.23" lengthAdjust="spacingAndGlyphs">24</text><text x="1175.4" y="580.35" font-size="14.8" text-anchor="middle" textLength="17.23" lengthAdjust="spacingAndGlyphs">25</text><text x="1260.15" y="580.35" font-size="14.8" text-anchor="middle" textLength="17.23" lengthAdjust="spacingAndGlyphs">26</text><text x="1344.9" y="580.35" font-size="14.8" text-anchor="middle" textLength="17.23" lengthAdjust="spacingAndGlyphs">27</text><text x="1184.5" y="599.9" font-size="14.6" text-anchor="middle" textLength="47.05" lengthAdjust="spacingAndGlyphs">PDENS</text><text x="124.1" y="1162.35" font-size="14.8" text-anchor="middle" textLength="21.54" lengthAdjust="spacingAndGlyphs">0.8</text><text x="191.74" y="1162.35" font-size="14.8" text-anchor="middle" textLength="21.54" lengthAdjust="spacingAndGlyphs">1.0</text><text x="259.38" y="1162.35" font-size="14.8" text-anchor="middle" textLength="21.54" lengthAdjust="spacingAndGlyphs">1.2</text><text x="327.02" y="1162.35" font-size="14.8" text-anchor="middle" textLength="21.54" lengthAdjust="spacingAndGlyphs">1.4</text><text x="394.66" y="1162.35" font-size="14.8" text-anchor="middle" textLength="21.54" lengthAdjust="spacingAndGlyphs">1.6</text><text x="462.3" y="1162.35" font-size="14.8" text-anchor="middle" textLength="21.54" lengthAdjust="spacingAndGlyphs">1.8</text><text x="272.5" y="1181.9" font-size="14.6" text-anchor="middle" textLength="8.48" lengthAdjust="spacingAndGlyphs">T</text><text x="574" y="1162.35" font-size="14.8" text-anchor="middle" textLength="38.77" lengthAdjust="spacingAndGlyphs">33.20</text><text x="648" y="1162.35" font-size="14.8" text-anchor="middle" textLength="38.77" lengthAdjust="spacingAndGlyphs">33.25</text><text x="722" y="1162.35" font-size="14.8" text-anchor="middle" textLength="38.77" lengthAdjust="spacingAndGlyphs">33.30</text><text x="796" y="1162.35" font-size="14.8" text-anchor="middle" textLength="38.77" lengthAdjust="spacingAndGlyphs">33.35</text><text x="870" y="1162.35" font-size="14.8" text-anchor="middle" textLength="38.77" lengthAdjust="spacingAndGlyphs">33.40</text><text x="728.5" y="1181.9" font-size="14.6" text-anchor="middle" textLength="8.82" lengthAdjust="spacingAndGlyphs">S</text><text x="1009.8" y="1162.35" font-size="14.8" text-anchor="middle" textLength="47.38" lengthAdjust="spacingAndGlyphs">26.575</text><text x="1059.66" y="1162.35" font-size="14.8" text-anchor="middle" textLength="47.38" lengthAdjust="spacingAndGlyphs">26.600</text><text x="1109.52" y="1162.35" font-size="14.8" text-anchor="middle" textLength="47.38" lengthAdjust="spacingAndGlyphs">26.625</text><text x="1159.37" y="1162.35" font-size="14.8" text-anchor="middle" textLength="47.38" lengthAdjust="spacingAndGlyphs">26.650</text><text x="1209.23" y="1162.35" font-size="14.8" text-anchor="middle" textLength="47.38" lengthAdjust="spacingAndGlyphs">26.675</text><text x="1259.09" y="1162.35" font-size="14.8" text-anchor="middle" textLength="47.38" lengthAdjust="spacingAndGlyphs">26.700</text><text x="1308.95" y="1162.35" font-size="14.8" text-anchor="middle" textLength="47.38" lengthAdjust="spacingAndGlyphs">26.725</text><text x="1358.8" y="1162.35" font-size="14.8" text-anchor="middle" textLength="47.38" lengthAdjust="spacingAndGlyphs">26.750</text><text x="1184.5" y="1181.9" font-size="14.6" text-anchor="middle" textLength="47.05" lengthAdjust="spacingAndGlyphs">PDENS</text><text x="61.6" y="41.05" font-size="14.8" text-anchor="end" textLength="8.84" lengthAdjust="spacingAndGlyphs">0</text><text x="61.6" y="155.53" font-size="14.8" text-anchor="end" textLength="26.51" lengthAdjust="spacingAndGlyphs">100</text><text x="61.6" y="270.01" font-size="14.8" text-anchor="end" textLength="26.51" lengthAdjust="spacingAndGlyphs">200</text><text x="61.6" y="384.49" font-size="14.8" text-anchor="end" textLength="26.51" lengthAdjust="spacingAndGlyphs">300</text><text x="61.6" y="498.97" font-size="14.8" text-anchor="end" textLength="26.51" lengthAdjust="spacingAndGlyphs">400</text><text x="26.2" y="299.6" font-size="14.6" text-anchor="middle" textLength="58.24" lengthAdjust="spacingAndGlyphs" transform="rotate(-90 26.2 299.6)">Pressure</text><text x="61.6" y="644.85" font-size="14.8" text-anchor="end" textLength="26.51" lengthAdjust="spacingAndGlyphs">120</text><text x="61.6" y="758.85" font-size="14.8" text-anchor="end" textLength="26.51" lengthAdjust="spacingAndGlyphs">140</text><text x="61.6" y="872.85" font-size="14.8" text-anchor="end" textLength="26.51" lengthAdjust="spacingAndGlyphs">160</text><text x="61.6" y="986.85" font-size="14.8" text-anchor="end" textLength="26.51" lengthAdjust="spacingAndGlyphs">180</text><text x="61.6" y="1100.85" font-size="14.8" text-anchor="end" textLength="26.51" lengthAdjust="spacingAndGlyphs">200</text><text x="26.2" y="882.6" font-size="14.6" text-anchor="middle" textLength="58.24" lengthAdjust="spacingAndGlyphs" transform="rotate(-90 26.2 882.6)">Pressure</text><text x="517.6" y="41.05" font-size="14.8" text-anchor="end" textLength="8.84" lengthAdjust="spacingAndGlyphs">0</text><text x="517.6" y="155.53" font-size="14.8" text-anchor="end" textLength="26.51" lengthAdjust="spacingAndGlyphs">100</text><text x="517.6" y="270.01" font-size="14.8" text-anchor="end" textLength="26.51" lengthAdjust="spacingAndGlyphs">200</text><text x="517.6" y="384.49" font-size="14.8" text-anchor="end" textLength="26.51" lengthAdjust="spacingAndGlyphs">300</text><text x="517.6" y="498.97" font-size="14.8" text-anchor="end" textLength="26.51" lengthAdjust="spacingAndGlyphs">400</text><text x="517.6" y="644.85" font-size="14.8" text-anchor="end" textLength="26.51" lengthAdjust="spacingAndGlyphs">120</text><text x="517.6" y="758.85" font-size="14.8" text-anchor="end" textLength="26.51" lengthAdjust="spacingAndGlyphs">140</text><text x="517.6" y="872.85" font-size="14.8" text-anchor="end" textLength="26.51" lengthAdjust="spacingAndGlyphs">160</text><text x="517.6" y="986.85" font-size="14.8" text-anchor="end" textLength="26.51" lengthAdjust="spacingAndGlyphs">180</text><text x="517.6" y="1100.85" font-size="14.8" text-anchor="end" textLength="26.51" lengthAdjust="spacingAndGlyphs">200</text><text x="973.6" y="41.05" font-size="14.8" text-anchor="end" textLength="8.84" lengthAdjust="spacingAndGlyphs">0</text><text x="973.6" y="155.53" font-size="14.8" text-anchor="end" textLength="26.51" lengthAdjust="spacingAndGlyphs">100</text><text x="973.6" y="270.01" font-size="14.8" text-anchor="end" textLength="26.51" lengthAdjust="spacingAndGlyphs">200</text><text x="973.6" y="384.49" font-size="14.8" text-anchor="end" textLength="26.51" lengthAdjust="spacingAndGlyphs">300</text><text x="973.6" y="498.97" font-size="14.8" text-anchor="end" textLength="26.51" lengthAdjust="spacingAndGlyphs">400</text><text x="973.6" y="644.85" font-size="14.8" text-anchor="end" textLength="26.51" lengthAdjust="spacingAndGlyphs">120</text><text x="973.6" y="758.85" font-size="14.8" text-anchor="end" textLength="26.51" lengthAdjust="spacingAndGlyphs">140</text><text x="973.6" y="872.85" font-size="14.8" text-anchor="end" textLength="26.51" lengthAdjust="spacingAndGlyphs">160</text><text x="973.6" y="986.85" font-size="14.8" text-anchor="end" textLength="26.51" lengthAdjust="spacingAndGlyphs">180</text><text x="973.6" y="1100.85" font-size="14.8" text-anchor="end" textLength="26.51" lengthAdjust="spacingAndGlyphs">200</text>
<text x="272" y="27.7" font-size="17.6" text-anchor="middle" textLength="174.08" lengthAdjust="spacingAndGlyphs">2903007 Profile: 411</text></g>
</svg>
</body></html>
